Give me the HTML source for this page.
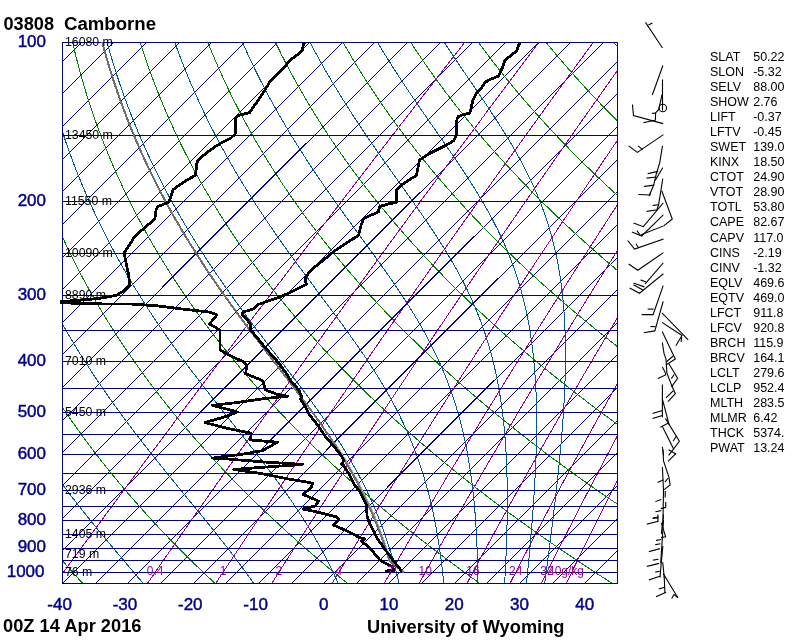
<!DOCTYPE html>
<html><head><meta charset="utf-8"><style>
html,body{margin:0;padding:0;background:#fff;width:800px;height:640px;overflow:hidden}
svg{display:block}
text{font-family:"Liberation Sans",Arial,Helvetica,sans-serif}
</style></head><body>
<svg width="800" height="640" viewBox="0 0 800 640">
<defs><clipPath id="c"><rect x="62" y="42" width="556" height="542"/></clipPath></defs>
<g clip-path="url(#c)" shape-rendering="crispEdges"><line x1="-459.50" y1="583.50" x2="81.50" y2="42.50" stroke="#00008c"/><line x1="-427.50" y1="583.50" x2="113.50" y2="42.50" stroke="#00008c"/><line x1="-394.50" y1="583.50" x2="146.50" y2="42.50" stroke="#00008c"/><line x1="-361.50" y1="583.50" x2="179.50" y2="42.50" stroke="#00008c"/><line x1="-329.50" y1="583.50" x2="211.50" y2="42.50" stroke="#00008c"/><line x1="-296.50" y1="583.50" x2="244.50" y2="42.50" stroke="#00008c"/><line x1="-263.50" y1="583.50" x2="277.50" y2="42.50" stroke="#00008c"/><line x1="-231.50" y1="583.50" x2="309.50" y2="42.50" stroke="#00008c"/><line x1="-198.50" y1="583.50" x2="342.50" y2="42.50" stroke="#00008c"/><line x1="-166.50" y1="583.50" x2="374.50" y2="42.50" stroke="#00008c"/><line x1="-133.50" y1="583.50" x2="407.50" y2="42.50" stroke="#00008c"/><line x1="-100.50" y1="583.50" x2="440.50" y2="42.50" stroke="#00008c"/><line x1="-68.50" y1="583.50" x2="472.50" y2="42.50" stroke="#00008c"/><line x1="-35.50" y1="583.50" x2="505.50" y2="42.50" stroke="#00008c"/><line x1="-2.50" y1="583.50" x2="538.50" y2="42.50" stroke="#00008c"/><line x1="29.50" y1="583.50" x2="570.50" y2="42.50" stroke="#00008c"/><line x1="62.50" y1="583.50" x2="603.50" y2="42.50" stroke="#00008c"/><line x1="95.50" y1="583.50" x2="636.50" y2="42.50" stroke="#00008c"/><line x1="127.50" y1="583.50" x2="668.50" y2="42.50" stroke="#00008c"/><line x1="160.50" y1="583.50" x2="701.50" y2="42.50" stroke="#00008c"/><line x1="193.50" y1="583.50" x2="734.50" y2="42.50" stroke="#00008c"/><line x1="225.50" y1="583.50" x2="766.50" y2="42.50" stroke="#00008c"/><line x1="258.50" y1="583.50" x2="799.50" y2="42.50" stroke="#00008c"/><line x1="291.50" y1="583.50" x2="832.50" y2="42.50" stroke="#00008c"/><line x1="323.50" y1="583.50" x2="864.50" y2="42.50" stroke="#00008c"/><line x1="356.50" y1="583.50" x2="897.50" y2="42.50" stroke="#00008c"/><line x1="388.50" y1="583.50" x2="929.50" y2="42.50" stroke="#00008c"/><line x1="421.50" y1="583.50" x2="962.50" y2="42.50" stroke="#00008c"/><line x1="454.50" y1="583.50" x2="995.50" y2="42.50" stroke="#00008c"/><line x1="486.50" y1="583.50" x2="1027.50" y2="42.50" stroke="#00008c"/><line x1="519.50" y1="583.50" x2="1060.50" y2="42.50" stroke="#00008c"/><line x1="552.50" y1="583.50" x2="1093.50" y2="42.50" stroke="#00008c"/><line x1="584.50" y1="583.50" x2="1125.50" y2="42.50" stroke="#00008c"/><line x1="617.50" y1="583.50" x2="1158.50" y2="42.50" stroke="#00008c"/><polyline points="-130.27,42.50 -130.36,47.05 -130.43,51.59 -130.47,56.14 -130.49,60.68 -130.48,65.23 -130.44,69.78 -130.38,74.32 -130.29,78.87 -130.18,83.42 -130.04,87.96 -129.87,92.51 -129.67,97.05 -129.45,101.60 -129.20,106.15 -128.93,110.69 -128.63,115.24 -128.30,119.79 -127.94,124.33 -127.55,128.88 -127.14,133.42 -126.70,137.97 -126.23,142.52 -125.73,147.06 -125.20,151.61 -124.65,156.16 -124.06,160.70 -123.45,165.25 -122.80,169.79 -122.13,174.34 -121.43,178.89 -120.70,183.43 -119.94,187.98 -119.14,192.53 -118.32,197.07 -117.47,201.62 -116.58,206.16 -115.67,210.71 -114.73,215.26 -113.75,219.80 -112.74,224.35 -111.70,228.89 -110.63,233.44 -109.53,237.99 -108.39,242.53 -107.23,247.08 -106.03,251.63 -104.80,256.17 -103.53,260.72 -102.23,265.26 -100.90,269.81 -99.54,274.36 -98.14,278.90 -96.71,283.45 -95.25,288.00 -93.75,292.54 -92.21,297.09 -90.65,301.63 -89.04,306.18 -87.41,310.73 -85.73,315.27 -84.03,319.82 -82.28,324.37 -80.50,328.91 -78.69,333.46 -76.84,338.00 -74.95,342.55 -73.03,347.10 -71.07,351.64 -69.07,356.19 -67.04,360.74 -64.96,365.28 -62.86,369.83 -60.71,374.37 -58.52,378.92 -56.30,383.47 -54.04,388.01 -51.74,392.56 -49.40,397.11 -47.02,401.65 -44.61,406.20 -42.15,410.74 -39.66,415.29 -37.12,419.84 -34.54,424.38 -31.93,428.93 -29.27,433.47 -26.57,438.02 -23.83,442.57 -21.05,447.11 -18.23,451.66 -15.37,456.21 -12.46,460.75 -9.51,465.30 -6.52,469.84 -3.49,474.39 -0.41,478.94 2.71,483.48 5.87,488.03 9.07,492.58 12.32,497.12 15.62,501.67 18.96,506.21 22.34,510.76 25.77,515.31 29.24,519.85 32.76,524.40 36.33,528.95 39.94,533.49 43.60,538.04 47.30,542.58 51.05,547.13 54.85,551.68 58.69,556.22 62.58,560.77 66.52,565.32 70.51,569.86 74.55,574.41 78.63,578.95 82.77,583.50" fill="none" stroke="#008000" stroke-width="1" /><polyline points="-62.64,42.50 -62.35,47.05 -62.03,51.59 -61.68,56.14 -61.31,60.68 -60.90,65.23 -60.47,69.78 -60.02,74.32 -59.53,78.87 -59.02,83.42 -58.47,87.96 -57.90,92.51 -57.30,97.05 -56.67,101.60 -56.01,106.15 -55.32,110.69 -54.60,115.24 -53.85,119.79 -53.07,124.33 -52.26,128.88 -51.42,133.42 -50.55,137.97 -49.65,142.52 -48.72,147.06 -47.75,151.61 -46.76,156.16 -45.73,160.70 -44.67,165.25 -43.59,169.79 -42.46,174.34 -41.31,178.89 -40.13,183.43 -38.91,187.98 -37.66,192.53 -36.37,197.07 -35.06,201.62 -33.71,206.16 -32.32,210.71 -30.91,215.26 -29.46,219.80 -27.97,224.35 -26.45,228.89 -24.90,233.44 -23.31,237.99 -21.69,242.53 -20.03,247.08 -18.34,251.63 -16.61,256.17 -14.85,260.72 -13.05,265.26 -11.21,269.81 -9.34,274.36 -7.43,278.90 -5.49,283.45 -3.50,288.00 -1.49,292.54 0.57,297.09 2.66,301.63 4.79,306.18 6.96,310.73 9.17,315.27 11.41,319.82 13.70,324.37 16.02,328.91 18.38,333.46 20.78,338.00 23.22,342.55 25.70,347.10 28.22,351.64 30.78,356.19 33.38,360.74 36.02,365.28 38.70,369.83 41.42,374.37 44.18,378.92 46.99,383.47 49.83,388.01 52.72,392.56 55.65,397.11 58.62,401.65 61.64,406.20 64.70,410.74 67.80,415.29 70.94,419.84 74.13,424.38 77.36,428.93 80.64,433.47 83.96,438.02 87.32,442.57 90.73,447.11 94.19,451.66 97.69,456.21 101.23,460.75 104.82,465.30 108.46,469.84 112.14,474.39 115.88,478.94 119.65,483.48 123.48,488.03 127.35,492.58 131.27,497.12 135.24,501.67 139.25,506.21 143.32,510.76 147.43,515.31 151.59,519.85 155.81,524.40 160.07,528.95 164.38,533.49 168.74,538.04 173.15,542.58 177.62,547.13 182.13,551.68 186.69,556.22 191.31,560.77 195.98,565.32 200.70,569.86 205.47,574.41 210.30,578.95 215.18,583.50" fill="none" stroke="#008000" stroke-width="1" /><polyline points="5.00,42.50 5.67,47.05 6.38,51.59 7.11,56.14 7.87,60.68 8.67,65.23 9.49,69.78 10.35,74.32 11.23,78.87 12.15,83.42 13.09,87.96 14.07,92.51 15.08,97.05 16.12,101.60 17.19,106.15 18.30,110.69 19.43,115.24 20.60,119.79 21.80,124.33 23.03,128.88 24.30,133.42 25.60,137.97 26.93,142.52 28.30,147.06 29.70,151.61 31.13,156.16 32.60,160.70 34.10,165.25 35.63,169.79 37.20,174.34 38.81,178.89 40.45,183.43 42.12,187.98 43.83,192.53 45.57,197.07 47.35,201.62 49.17,206.16 51.02,210.71 52.91,215.26 54.84,219.80 56.80,224.35 58.80,228.89 60.83,233.44 62.91,237.99 65.02,242.53 67.17,247.08 69.35,251.63 71.58,256.17 73.84,260.72 76.14,265.26 78.48,269.81 80.86,274.36 83.28,278.90 85.74,283.45 88.24,288.00 90.78,292.54 93.35,297.09 95.97,301.63 98.63,306.18 101.33,310.73 104.07,315.27 106.85,319.82 109.68,324.37 112.54,328.91 115.45,333.46 118.40,338.00 121.39,342.55 124.43,347.10 127.51,351.64 130.63,356.19 133.79,360.74 137.00,365.28 140.25,369.83 143.55,374.37 146.89,378.92 150.28,383.47 153.71,388.01 157.18,392.56 160.70,397.11 164.27,401.65 167.89,406.20 171.54,410.74 175.25,415.29 179.00,419.84 182.80,424.38 186.65,428.93 190.54,433.47 194.49,438.02 198.48,442.57 202.52,447.11 206.60,451.66 210.74,456.21 214.93,460.75 219.16,465.30 223.44,469.84 227.78,474.39 232.17,478.94 236.60,483.48 241.09,488.03 245.63,492.58 250.22,497.12 254.86,501.67 259.55,506.21 264.30,510.76 269.09,515.31 273.94,519.85 278.85,524.40 283.81,528.95 288.82,533.49 293.89,538.04 299.01,542.58 304.18,547.13 309.41,551.68 314.70,556.22 320.04,560.77 325.44,565.32 330.89,569.86 336.40,574.41 341.97,578.95 347.59,583.50" fill="none" stroke="#008000" stroke-width="1" /><polyline points="72.64,42.50 73.69,47.05 74.78,51.59 75.90,56.14 77.05,60.68 78.24,65.23 79.46,69.78 80.71,74.32 81.99,78.87 83.31,83.42 84.66,87.96 86.04,92.51 87.46,97.05 88.91,101.60 90.39,106.15 91.91,110.69 93.46,115.24 95.05,119.79 96.67,124.33 98.33,128.88 100.02,133.42 101.75,137.97 103.51,142.52 105.31,147.06 107.15,151.61 109.02,156.16 110.93,160.70 112.87,165.25 114.85,169.79 116.87,174.34 118.92,178.89 121.02,183.43 123.15,187.98 125.31,192.53 127.52,197.07 129.77,201.62 132.05,206.16 134.37,210.71 136.73,215.26 139.13,219.80 141.57,224.35 144.05,228.89 146.57,233.44 149.13,237.99 151.72,242.53 154.36,247.08 157.04,251.63 159.77,256.17 162.53,260.72 165.33,265.26 168.18,269.81 171.06,274.36 173.99,278.90 176.97,283.45 179.98,288.00 183.04,292.54 186.14,297.09 189.28,301.63 192.47,306.18 195.70,310.73 198.97,315.27 202.29,319.82 205.66,324.37 209.07,328.91 212.52,333.46 216.02,338.00 219.57,342.55 223.16,347.10 226.79,351.64 230.48,356.19 234.21,360.74 237.98,365.28 241.81,369.83 245.68,374.37 249.60,378.92 253.57,383.47 257.58,388.01 261.65,392.56 265.76,397.11 269.92,401.65 274.13,406.20 278.39,410.74 282.70,415.29 287.06,419.84 291.48,424.38 295.94,428.93 300.45,433.47 305.02,438.02 309.63,442.57 314.30,447.11 319.02,451.66 323.79,456.21 328.62,460.75 333.50,465.30 338.43,469.84 343.41,474.39 348.45,478.94 353.55,483.48 358.70,488.03 363.90,492.58 369.16,497.12 374.48,501.67 379.85,506.21 385.27,510.76 390.76,515.31 396.30,519.85 401.89,524.40 407.55,528.95 413.26,533.49 419.03,538.04 424.86,542.58 430.75,547.13 436.69,551.68 442.70,556.22 448.77,560.77 454.89,565.32 461.08,569.86 467.33,574.41 473.64,578.95 480.01,583.50" fill="none" stroke="#008000" stroke-width="1" /><polyline points="140.27,42.50 141.71,47.05 143.18,51.59 144.69,56.14 146.24,60.68 147.81,65.23 149.42,69.78 151.07,74.32 152.75,78.87 154.47,83.42 156.22,87.96 158.01,92.51 159.83,97.05 161.69,101.60 163.59,106.15 165.52,110.69 167.49,115.24 169.50,119.79 171.54,124.33 173.62,128.88 175.74,133.42 177.90,137.97 180.09,142.52 182.32,147.06 184.60,151.61 186.91,156.16 189.25,160.70 191.64,165.25 194.07,169.79 196.54,174.34 199.04,178.89 201.59,183.43 204.17,187.98 206.80,192.53 209.47,197.07 212.18,201.62 214.93,206.16 217.72,210.71 220.55,215.26 223.42,219.80 226.34,224.35 229.30,228.89 232.30,233.44 235.34,237.99 238.43,242.53 241.56,247.08 244.74,251.63 247.95,256.17 251.21,260.72 254.52,265.26 257.87,269.81 261.27,274.36 264.71,278.90 268.19,283.45 271.72,288.00 275.30,292.54 278.92,297.09 282.59,301.63 286.31,306.18 290.07,310.73 293.88,315.27 297.73,319.82 301.64,324.37 305.59,328.91 309.59,333.46 313.64,338.00 317.74,342.55 321.89,347.10 326.08,351.64 330.33,356.19 334.62,360.74 338.97,365.28 343.36,369.83 347.81,374.37 352.31,378.92 356.86,383.47 361.46,388.01 366.11,392.56 370.81,397.11 375.57,401.65 380.38,406.20 385.24,410.74 390.16,415.29 395.12,419.84 400.15,424.38 405.23,428.93 410.36,433.47 415.54,438.02 420.79,442.57 426.08,447.11 431.44,451.66 436.85,456.21 442.31,460.75 447.83,465.30 453.41,469.84 459.05,474.39 464.74,478.94 470.50,483.48 476.31,488.03 482.18,492.58 488.11,497.12 494.09,501.67 500.14,506.21 506.25,510.76 512.42,515.31 518.65,519.85 524.94,524.40 531.29,528.95 537.70,533.49 544.18,538.04 550.71,542.58 557.31,547.13 563.98,551.68 570.70,556.22 577.49,560.77 584.35,565.32 591.27,569.86 598.25,574.41 605.30,578.95 612.42,583.50" fill="none" stroke="#008000" stroke-width="1" /><polyline points="207.91,42.50 209.73,47.05 211.59,51.59 213.48,56.14 215.42,60.68 217.38,65.23 219.39,69.78 221.43,74.32 223.51,78.87 225.63,83.42 227.78,87.96 229.98,92.51 232.21,97.05 234.48,101.60 236.79,106.15 239.13,110.69 241.52,115.24 243.95,119.79 246.41,124.33 248.92,128.88 251.46,133.42 254.05,137.97 256.67,142.52 259.34,147.06 262.05,151.61 264.79,156.16 267.58,160.70 270.41,165.25 273.29,169.79 276.20,174.34 279.16,178.89 282.16,183.43 285.20,187.98 288.29,192.53 291.42,197.07 294.59,201.62 297.80,206.16 301.06,210.71 304.37,215.26 307.72,219.80 311.11,224.35 314.55,228.89 318.03,233.44 321.56,237.99 325.14,242.53 328.76,247.08 332.43,251.63 336.14,256.17 339.90,260.72 343.71,265.26 347.56,269.81 351.47,274.36 355.42,278.90 359.42,283.45 363.46,288.00 367.56,292.54 371.71,297.09 375.90,301.63 380.14,306.18 384.44,310.73 388.78,315.27 393.17,319.82 397.62,324.37 402.12,328.91 406.66,333.46 411.26,338.00 415.91,342.55 420.61,347.10 425.37,351.64 430.18,356.19 435.04,360.74 439.95,365.28 444.92,369.83 449.94,374.37 455.01,378.92 460.14,383.47 465.33,388.01 470.57,392.56 475.87,397.11 481.22,401.65 486.62,406.20 492.09,410.74 497.61,415.29 503.19,419.84 508.82,424.38 514.51,428.93 520.26,433.47 526.07,438.02 531.94,442.57 537.87,447.11 543.85,451.66 549.90,456.21 556.00,460.75 562.17,465.30 568.40,469.84 574.68,474.39 581.03,478.94 587.45,483.48 593.92,488.03 600.45,492.58 607.05,497.12 613.71,501.67 620.44,506.21 627.23,510.76 634.08,515.31 641.00,519.85 647.98,524.40 655.03,528.95 662.14,533.49 669.32,538.04 676.57,542.58 683.88,547.13 691.26,551.68 698.71,556.22 706.22,560.77 713.81,565.32 721.46,569.86 729.18,574.41 736.97,578.95 744.83,583.50" fill="none" stroke="#008000" stroke-width="1" /><polyline points="275.54,42.50 277.75,47.05 279.99,51.59 282.27,56.14 284.60,60.68 286.96,65.23 289.36,69.78 291.79,74.32 294.27,78.87 296.79,83.42 299.35,87.96 301.95,92.51 304.59,97.05 307.26,101.60 309.99,106.15 312.75,110.69 315.55,115.24 318.39,119.79 321.28,124.33 324.21,128.88 327.18,133.42 330.20,137.97 333.25,142.52 336.35,147.06 339.49,151.61 342.68,156.16 345.91,160.70 349.19,165.25 352.50,169.79 355.87,174.34 359.28,178.89 362.73,183.43 366.23,187.98 369.77,192.53 373.36,197.07 377.00,201.62 380.68,206.16 384.41,210.71 388.19,215.26 392.01,219.80 395.88,224.35 399.80,228.89 403.77,233.44 407.78,237.99 411.84,242.53 415.96,247.08 420.12,251.63 424.33,256.17 428.59,260.72 432.90,265.26 437.26,269.81 441.67,274.36 446.13,278.90 450.64,283.45 455.21,288.00 459.82,292.54 464.49,297.09 469.21,301.63 473.98,306.18 478.81,310.73 483.68,315.27 488.61,319.82 493.60,324.37 498.64,328.91 503.73,333.46 508.88,338.00 514.08,342.55 519.34,347.10 524.66,351.64 530.02,356.19 535.45,360.74 540.93,365.28 546.47,369.83 552.07,374.37 557.72,378.92 563.43,383.47 569.20,388.01 575.03,392.56 580.92,397.11 586.86,401.65 592.87,406.20 598.94,410.74 605.06,415.29 611.25,419.84 617.49,424.38 623.80,428.93 630.17,433.47 636.60,438.02 643.09,442.57 649.65,447.11 656.27,451.66 662.95,456.21 669.70,460.75 676.51,465.30 683.38,469.84 690.32,474.39 697.32,478.94 704.39,483.48 711.53,488.03 718.73,492.58 726.00,497.12 733.33,501.67 740.73,506.21 748.20,510.76 755.74,515.31 763.35,519.85 771.02,524.40 778.77,528.95 786.58,533.49 794.47,538.04 802.42,542.58 810.44,547.13 818.54,551.68 826.71,556.22 834.95,560.77 843.26,565.32 851.65,569.86 860.11,574.41 868.64,578.95 877.25,583.50" fill="none" stroke="#008000" stroke-width="1" /><polyline points="343.18,42.50 345.77,47.05 348.40,51.59 351.07,56.14 353.78,60.68 356.53,65.23 359.32,69.78 362.16,74.32 365.03,78.87 367.95,83.42 370.91,87.96 373.92,92.51 376.96,97.05 380.05,101.60 383.18,106.15 386.36,110.69 389.58,115.24 392.84,119.79 396.15,124.33 399.50,128.88 402.90,133.42 406.34,137.97 409.83,142.52 413.36,147.06 416.94,151.61 420.57,156.16 424.24,160.70 427.96,165.25 431.72,169.79 435.53,174.34 439.39,178.89 443.30,183.43 447.26,187.98 451.26,192.53 455.31,197.07 459.41,201.62 463.56,206.16 467.76,210.71 472.01,215.26 476.30,219.80 480.65,224.35 485.05,228.89 489.50,233.44 494.00,237.99 498.55,242.53 503.15,247.08 507.81,251.63 512.52,256.17 517.27,260.72 522.09,265.26 526.95,269.81 531.87,274.36 536.84,278.90 541.87,283.45 546.95,288.00 552.08,292.54 557.27,297.09 562.52,301.63 567.82,306.18 573.17,310.73 578.59,315.27 584.06,319.82 589.58,324.37 595.16,328.91 600.80,333.46 606.50,338.00 612.26,342.55 618.07,347.10 623.94,351.64 629.87,356.19 635.87,360.74 641.92,365.28 648.03,369.83 654.20,374.37 660.43,378.92 666.72,383.47 673.08,388.01 679.49,392.56 685.97,397.11 692.51,401.65 699.12,406.20 705.78,410.74 712.51,415.29 719.31,419.84 726.17,424.38 733.09,428.93 740.08,433.47 747.13,438.02 754.25,442.57 761.43,447.11 768.69,451.66 776.00,456.21 783.39,460.75 790.84,465.30 798.37,469.84 805.95,474.39 813.61,478.94 821.34,483.48 829.14,488.03 837.01,492.58 844.94,497.12 852.95,501.67 861.03,506.21 869.18,510.76 877.40,515.31 885.70,519.85 894.07,524.40 902.51,528.95 911.02,533.49 919.61,538.04 928.27,542.58 937.01,547.13 945.82,551.68 954.71,556.22 963.68,560.77 972.72,565.32 981.84,569.86 991.03,574.41 1000.31,578.95 1009.66,583.50" fill="none" stroke="#008000" stroke-width="1" /><polyline points="410.81,42.50 413.79,47.05 416.80,51.59 419.86,56.14 422.96,60.68 426.10,65.23 429.29,69.78 432.52,74.32 435.79,78.87 439.11,83.42 442.48,87.96 445.88,92.51 449.34,97.05 452.84,101.60 456.38,106.15 459.97,110.69 463.61,115.24 467.29,119.79 471.02,124.33 474.80,128.88 478.62,133.42 482.49,137.97 486.41,142.52 490.38,147.06 494.39,151.61 498.46,156.16 502.57,160.70 506.73,165.25 510.94,169.79 515.20,174.34 519.51,178.89 523.87,183.43 528.28,187.98 532.75,192.53 537.26,197.07 541.82,201.62 546.44,206.16 551.11,210.71 555.83,215.26 560.60,219.80 565.42,224.35 570.30,228.89 575.23,233.44 580.22,237.99 585.26,242.53 590.35,247.08 595.50,251.63 600.70,256.17 605.96,260.72 611.28,265.26 616.65,269.81 622.07,274.36 627.55,278.90 633.09,283.45 638.69,288.00 644.35,292.54 650.06,297.09 655.83,301.63 661.66,306.18 667.54,310.73 673.49,315.27 679.50,319.82 685.56,324.37 691.69,328.91 697.87,333.46 704.12,338.00 710.43,342.55 716.80,347.10 723.23,351.64 729.72,356.19 736.28,360.74 742.90,365.28 749.58,369.83 756.33,374.37 763.14,378.92 770.01,383.47 776.95,388.01 783.96,392.56 791.03,397.11 798.16,401.65 805.36,406.20 812.63,410.74 819.97,415.29 827.37,419.84 834.84,424.38 842.38,428.93 849.98,433.47 857.66,438.02 865.40,442.57 873.22,447.11 881.10,451.66 889.06,456.21 897.08,460.75 905.18,465.30 913.35,469.84 921.59,474.39 929.90,478.94 938.29,483.48 946.75,488.03 955.28,492.58 963.89,497.12 972.57,501.67 981.33,506.21 990.16,510.76 999.07,515.31 1008.05,519.85 1017.11,524.40 1026.25,528.95 1035.46,533.49 1044.76,538.04 1054.13,542.58 1063.58,547.13 1073.11,551.68 1082.72,556.22 1092.40,560.77 1102.18,565.32 1112.03,569.86 1121.96,574.41 1131.97,578.95 1142.07,583.50" fill="none" stroke="#008000" stroke-width="1" /><polyline points="478.45,42.50 481.80,47.05 485.20,51.59 488.65,56.14 492.14,60.68 495.67,65.23 499.25,69.78 502.88,74.32 506.55,78.87 510.27,83.42 514.04,87.96 517.85,92.51 521.71,97.05 525.62,101.60 529.58,106.15 533.58,110.69 537.64,115.24 541.74,119.79 545.89,124.33 550.09,128.88 554.34,133.42 558.64,137.97 562.99,142.52 567.39,147.06 571.84,151.61 576.34,156.16 580.90,160.70 585.50,165.25 590.16,169.79 594.87,174.34 599.63,178.89 604.44,183.43 609.31,187.98 614.23,192.53 619.21,197.07 624.23,201.62 629.32,206.16 634.45,210.71 639.64,215.26 644.89,219.80 650.19,224.35 655.55,228.89 660.97,233.44 666.44,237.99 671.96,242.53 677.55,247.08 683.19,251.63 688.89,256.17 694.65,260.72 700.46,265.26 706.34,269.81 712.27,274.36 718.27,278.90 724.32,283.45 730.43,288.00 736.61,292.54 742.84,297.09 749.14,301.63 755.49,306.18 761.91,310.73 768.39,315.27 774.94,319.82 781.54,324.37 788.21,328.91 794.94,333.46 801.74,338.00 808.60,342.55 815.53,347.10 822.52,351.64 829.57,356.19 836.69,360.74 843.88,365.28 851.14,369.83 858.46,374.37 865.85,378.92 873.30,383.47 880.83,388.01 888.42,392.56 896.08,397.11 903.81,401.65 911.61,406.20 919.48,410.74 927.42,415.29 935.43,419.84 943.51,424.38 951.66,428.93 959.89,433.47 968.19,438.02 976.56,442.57 985.00,447.11 993.52,451.66 1002.11,456.21 1010.78,460.75 1019.52,465.30 1028.33,469.84 1037.22,474.39 1046.19,478.94 1055.24,483.48 1064.36,488.03 1073.56,492.58 1082.83,497.12 1092.19,501.67 1101.62,506.21 1111.13,510.76 1120.73,515.31 1130.40,519.85 1140.15,524.40 1149.99,528.95 1159.90,533.49 1169.90,538.04 1179.98,542.58 1190.14,547.13 1200.39,551.68 1210.72,556.22 1221.13,560.77 1231.63,565.32 1242.22,569.86 1252.89,574.41 1263.64,578.95 1274.48,583.50" fill="none" stroke="#008000" stroke-width="1" /><polyline points="546.09,42.50 549.82,47.05 553.61,51.59 557.44,56.14 561.32,60.68 565.24,65.23 569.22,69.78 573.24,74.32 577.31,78.87 581.43,83.42 585.60,87.96 589.82,92.51 594.09,97.05 598.41,101.60 602.78,106.15 607.20,110.69 611.67,115.24 616.19,119.79 620.76,124.33 625.39,128.88 630.06,133.42 634.79,137.97 639.57,142.52 644.40,147.06 649.29,151.61 654.23,156.16 659.23,160.70 664.27,165.25 669.38,169.79 674.53,174.34 679.75,178.89 685.01,183.43 690.34,187.98 695.72,192.53 701.15,197.07 706.64,201.62 712.19,206.16 717.80,210.71 723.46,215.26 729.18,219.80 734.96,224.35 740.80,228.89 746.70,233.44 752.66,237.99 758.67,242.53 764.75,247.08 770.88,251.63 777.08,256.17 783.34,260.72 789.65,265.26 796.03,269.81 802.48,274.36 808.98,278.90 815.55,283.45 822.18,288.00 828.87,292.54 835.62,297.09 842.45,301.63 849.33,306.18 856.28,310.73 863.30,315.27 870.38,319.82 877.52,324.37 884.73,328.91 892.01,333.46 899.36,338.00 906.77,342.55 914.25,347.10 921.80,351.64 929.42,356.19 937.11,360.74 944.87,365.28 952.69,369.83 960.59,374.37 968.55,378.92 976.59,383.47 984.70,388.01 992.88,392.56 1001.13,397.11 1009.46,401.65 1017.86,406.20 1026.33,410.74 1034.87,415.29 1043.49,419.84 1052.18,424.38 1060.95,428.93 1069.80,433.47 1078.72,438.02 1087.71,442.57 1096.79,447.11 1105.94,451.66 1115.16,456.21 1124.47,460.75 1133.85,465.30 1143.32,469.84 1152.86,474.39 1162.48,478.94 1172.18,483.48 1181.97,488.03 1191.83,492.58 1201.78,497.12 1211.81,501.67 1221.92,506.21 1232.11,510.76 1242.39,515.31 1252.75,519.85 1263.20,524.40 1273.73,528.95 1284.34,533.49 1295.04,538.04 1305.83,542.58 1316.71,547.13 1327.67,551.68 1338.72,556.22 1349.86,560.77 1361.09,565.32 1372.40,569.86 1383.81,574.41 1395.31,578.95 1406.90,583.50" fill="none" stroke="#008000" stroke-width="1" /><polyline points="613.72,42.50 617.84,47.05 622.01,51.59 626.23,56.14 630.50,60.68 634.82,65.23 639.19,69.78 643.60,74.32 648.07,78.87 652.59,83.42 657.17,87.96 661.79,92.51 666.47,97.05 671.20,101.60 675.98,106.15 680.81,110.69 685.70,115.24 690.64,119.79 695.63,124.33 700.68,128.88 705.78,133.42 710.94,137.97 716.15,142.52 721.42,147.06 726.74,151.61 732.12,156.16 737.56,160.70 743.05,165.25 748.60,169.79 754.20,174.34 759.86,178.89 765.59,183.43 771.37,187.98 777.20,192.53 783.10,197.07 789.06,201.62 795.07,206.16 801.15,210.71 807.28,215.26 813.48,219.80 819.73,224.35 826.05,228.89 832.43,233.44 838.87,237.99 845.38,242.53 851.94,247.08 858.57,251.63 865.27,256.17 872.02,260.72 878.84,265.26 885.73,269.81 892.68,274.36 899.69,278.90 906.77,283.45 913.92,288.00 921.13,292.54 928.41,297.09 935.75,301.63 943.17,306.18 950.65,310.73 958.20,315.27 965.82,319.82 973.50,324.37 981.26,328.91 989.08,333.46 996.98,338.00 1004.95,342.55 1012.98,347.10 1021.09,351.64 1029.27,356.19 1037.52,360.74 1045.85,365.28 1054.25,369.83 1062.72,374.37 1071.26,378.92 1079.88,383.47 1088.57,388.01 1097.34,392.56 1106.19,397.11 1115.11,401.65 1124.10,406.20 1133.17,410.74 1142.32,415.29 1151.55,419.84 1160.86,424.38 1170.24,428.93 1179.70,433.47 1189.25,438.02 1198.87,442.57 1208.57,447.11 1218.35,451.66 1228.22,456.21 1238.16,460.75 1248.19,465.30 1258.30,469.84 1268.50,474.39 1278.77,478.94 1289.13,483.48 1299.58,488.03 1310.11,492.58 1320.72,497.12 1331.43,501.67 1342.21,506.21 1353.09,510.76 1364.05,515.31 1375.10,519.85 1386.24,524.40 1397.47,528.95 1408.78,533.49 1420.19,538.04 1431.69,542.58 1443.27,547.13 1454.95,551.68 1466.72,556.22 1478.59,560.77 1490.54,565.32 1502.59,569.86 1514.74,574.41 1526.98,578.95 1539.31,583.50" fill="none" stroke="#008000" stroke-width="1" /><polyline points="-95.89,42.50 -95.78,47.05 -95.65,51.59 -95.49,56.14 -95.30,60.68 -95.09,65.23 -94.84,69.78 -94.58,74.32 -94.28,78.87 -93.96,83.42 -93.61,87.96 -93.23,92.51 -92.83,97.05 -92.40,101.60 -91.93,106.15 -91.45,110.69 -90.93,115.24 -90.38,119.79 -89.81,124.33 -89.20,128.88 -88.57,133.42 -87.90,137.97 -87.21,142.52 -86.49,147.06 -85.74,151.61 -84.96,156.16 -84.15,160.70 -83.30,165.25 -82.43,169.79 -81.53,174.34 -80.59,178.89 -79.63,183.43 -78.63,187.98 -77.60,192.53 -76.55,197.07 -75.45,201.62 -74.33,206.16 -73.18,210.71 -71.99,215.26 -70.77,219.80 -69.52,224.35 -68.23,228.89 -66.92,233.44 -65.57,237.99 -64.18,242.53 -62.76,247.08 -61.31,251.63 -59.83,256.17 -58.31,260.72 -56.75,265.26 -55.17,269.81 -53.54,274.36 -51.88,278.90 -50.19,283.45 -48.46,288.00 -46.70,292.54 -44.90,297.09 -43.07,301.63 -41.19,306.18 -39.29,310.73 -37.34,315.27 -35.36,319.82 -33.35,324.37 -31.29,328.91 -29.20,333.46 -27.07,338.00 -24.90,342.55 -22.70,347.10 -20.46,351.64 -18.18,356.19 -15.86,360.74 -13.50,365.28 -11.10,369.83 -8.67,374.37 -6.19,378.92 -3.68,383.47 -1.13,388.01 1.47,392.56 4.10,397.11 6.77,401.65 9.48,406.20 12.23,410.74 15.02,415.29 17.86,419.84 20.73,424.38 23.64,428.93 26.59,433.47 29.58,438.02 32.62,442.57 35.69,447.11 38.80,451.66 41.95,456.21 45.14,460.75 48.37,465.30 51.64,469.84 54.95,474.39 58.30,478.94 61.68,483.48 65.10,488.03 68.55,492.58 72.04,497.12 75.57,501.67 79.13,506.21 82.72,510.76 86.34,515.31 89.99,519.85 93.68,524.40 97.38,528.95 101.12,533.49 104.87,538.04 108.65,542.58 112.45,547.13 116.27,551.68 120.10,556.22 123.94,560.77 127.79,565.32 131.65,569.86 135.52,574.41 139.39,578.95 143.25,583.50" fill="none" stroke="#005a96" stroke-width="1" /><polyline points="-28.20,42.50 -27.71,47.05 -27.19,51.59 -26.65,56.14 -26.07,60.68 -25.47,65.23 -24.83,69.78 -24.17,74.32 -23.48,78.87 -22.75,83.42 -22.00,87.96 -21.22,92.51 -20.41,97.05 -19.57,101.60 -18.69,106.15 -17.79,110.69 -16.85,115.24 -15.89,119.79 -14.89,124.33 -13.86,128.88 -12.80,133.42 -11.71,137.97 -10.59,142.52 -9.43,147.06 -8.25,151.61 -7.03,156.16 -5.77,160.70 -4.49,165.25 -3.17,169.79 -1.82,174.34 -0.43,178.89 0.98,183.43 2.44,187.98 3.92,192.53 5.44,197.07 7.00,201.62 8.58,206.16 10.21,210.71 11.87,215.26 13.56,219.80 15.29,224.35 17.05,228.89 18.85,233.44 20.69,237.99 22.56,242.53 24.47,247.08 26.41,251.63 28.39,256.17 30.41,260.72 32.47,265.26 34.56,269.81 36.69,274.36 38.86,278.90 41.06,283.45 43.30,288.00 45.58,292.54 47.90,297.09 50.26,301.63 52.66,306.18 55.09,310.73 57.57,315.27 60.08,319.82 62.63,324.37 65.22,328.91 67.85,333.46 70.52,338.00 73.23,342.55 75.98,347.10 78.77,351.64 81.60,356.19 84.47,360.74 87.38,365.28 90.33,369.83 93.31,374.37 96.34,378.92 99.40,383.47 102.51,388.01 105.65,392.56 108.83,397.11 112.05,401.65 115.30,406.20 118.59,410.74 121.92,415.29 125.28,419.84 128.68,424.38 132.11,428.93 135.57,433.47 139.06,438.02 142.59,442.57 146.14,447.11 149.72,451.66 153.32,456.21 156.95,460.75 160.59,465.30 164.26,469.84 167.94,474.39 171.64,478.94 175.35,483.48 179.07,488.03 182.80,492.58 186.53,497.12 190.26,501.67 193.98,506.21 197.70,510.76 201.42,515.31 205.11,519.85 208.80,524.40 212.46,528.95 216.10,533.49 219.71,538.04 223.30,542.58 226.85,547.13 230.36,551.68 233.83,556.22 237.27,560.77 240.65,565.32 243.99,569.86 247.28,574.41 250.52,578.95 253.70,583.50" fill="none" stroke="#005a96" stroke-width="1" /><polyline points="39.48,42.50 40.35,47.05 41.26,51.59 42.19,56.14 43.15,60.68 44.15,65.23 45.18,69.78 46.24,74.32 47.33,78.87 48.45,83.42 49.61,87.96 50.79,92.51 52.01,97.05 53.27,101.60 54.55,106.15 55.87,110.69 57.22,115.24 58.60,119.79 60.02,124.33 61.47,128.88 62.96,133.42 64.48,137.97 66.03,142.52 67.62,147.06 69.24,151.61 70.90,156.16 72.60,160.70 74.32,165.25 76.09,169.79 77.89,174.34 79.72,178.89 81.59,183.43 83.50,187.98 85.44,192.53 87.43,197.07 89.44,201.62 91.50,206.16 93.59,210.71 95.72,215.26 97.88,219.80 100.09,224.35 102.33,228.89 104.61,233.44 106.93,237.99 109.28,242.53 111.68,247.08 114.11,251.63 116.58,256.17 119.10,260.72 121.65,265.26 124.23,269.81 126.86,274.36 129.53,278.90 132.24,283.45 134.98,288.00 137.77,292.54 140.59,297.09 143.46,301.63 146.36,306.18 149.30,310.73 152.28,315.27 155.29,319.82 158.35,324.37 161.44,328.91 164.57,333.46 167.74,338.00 170.94,342.55 174.18,347.10 177.45,351.64 180.75,356.19 184.09,360.74 187.46,365.28 190.86,369.83 194.28,374.37 197.74,378.92 201.22,383.47 204.72,388.01 208.24,392.56 211.79,397.11 215.35,401.65 218.93,406.20 222.52,410.74 226.11,415.29 229.72,419.84 233.33,424.38 236.94,428.93 240.54,433.47 244.14,438.02 247.73,442.57 251.31,447.11 254.87,451.66 258.41,456.21 261.93,460.75 265.42,465.30 268.88,469.84 272.30,474.39 275.68,478.94 279.03,483.48 282.33,488.03 285.58,492.58 288.79,497.12 291.94,501.67 295.04,506.21 298.08,510.76 301.06,515.31 303.98,519.85 306.84,524.40 309.64,528.95 312.37,533.49 315.05,538.04 317.65,542.58 320.19,547.13 322.67,551.68 325.08,556.22 327.43,560.77 329.71,565.32 331.93,569.86 334.09,574.41 336.18,578.95 338.21,583.50" fill="none" stroke="#005a96" stroke-width="1" /><polyline points="107.16,42.50 108.42,47.05 109.71,51.59 111.03,56.14 112.38,60.68 113.77,65.23 115.19,69.78 116.65,74.32 118.13,78.87 119.66,83.42 121.22,87.96 122.81,92.51 124.43,97.05 126.10,101.60 127.79,106.15 129.52,110.69 131.29,115.24 133.09,119.79 134.93,124.33 136.81,128.88 138.72,133.42 140.67,137.97 142.65,142.52 144.67,147.06 146.73,151.61 148.82,156.16 150.96,160.70 153.13,165.25 155.33,169.79 157.58,174.34 159.86,178.89 162.18,183.43 164.54,187.98 166.94,192.53 169.38,197.07 171.85,201.62 174.37,206.16 176.92,210.71 179.51,215.26 182.14,219.80 184.81,224.35 187.51,228.89 190.26,233.44 193.04,237.99 195.87,242.53 198.73,247.08 201.63,251.63 204.56,256.17 207.54,260.72 210.55,265.26 213.60,269.81 216.68,274.36 219.80,278.90 222.95,283.45 226.14,288.00 229.36,292.54 232.61,297.09 235.89,301.63 239.20,306.18 242.54,310.73 245.91,315.27 249.29,319.82 252.71,324.37 256.14,328.91 259.59,333.46 263.05,338.00 266.53,342.55 270.02,347.10 273.51,351.64 277.01,356.19 280.52,360.74 284.01,365.28 287.51,369.83 290.99,374.37 294.46,378.92 297.92,383.47 301.36,388.01 304.77,392.56 308.15,397.11 311.50,401.65 314.82,406.20 318.10,410.74 321.33,415.29 324.53,419.84 327.67,424.38 330.76,428.93 333.80,433.47 336.78,438.02 339.70,442.57 342.57,447.11 345.37,451.66 348.11,456.21 350.78,460.75 353.39,465.30 355.93,469.84 358.40,474.39 360.81,478.94 363.14,483.48 365.42,488.03 367.62,492.58 369.76,497.12 371.83,501.67 373.84,506.21 375.78,510.76 377.66,515.31 379.48,519.85 381.24,524.40 382.94,528.95 384.58,533.49 386.16,538.04 387.68,542.58 389.16,547.13 390.58,551.68 391.94,556.22 393.26,560.77 394.53,565.32 395.75,569.86 396.93,574.41 398.06,578.95 399.15,583.50" fill="none" stroke="#005a96" stroke-width="1" /><polyline points="174.84,42.50 176.48,47.05 178.15,51.59 179.86,56.14 181.61,60.68 183.39,65.23 185.20,69.78 187.05,74.32 188.94,78.87 190.86,83.42 192.82,87.96 194.81,92.51 196.85,97.05 198.92,101.60 201.02,106.15 203.17,110.69 205.35,115.24 207.57,119.79 209.83,124.33 212.12,128.88 214.45,133.42 216.82,137.97 219.23,142.52 221.68,147.06 224.17,151.61 226.69,156.16 229.25,160.70 231.85,165.25 234.49,169.79 237.17,174.34 239.89,178.89 242.64,183.43 245.43,187.98 248.26,192.53 251.13,197.07 254.03,201.62 256.97,206.16 259.95,210.71 262.96,215.26 266.00,219.80 269.08,224.35 272.20,228.89 275.34,233.44 278.52,237.99 281.72,242.53 284.95,247.08 288.21,251.63 291.50,256.17 294.80,260.72 298.13,265.26 301.48,269.81 304.84,274.36 308.22,278.90 311.61,283.45 315.01,288.00 318.41,292.54 321.81,297.09 325.22,301.63 328.62,306.18 332.00,310.73 335.38,315.27 338.74,319.82 342.08,324.37 345.40,328.91 348.69,333.46 351.95,338.00 355.17,342.55 358.36,347.10 361.50,351.64 364.59,356.19 367.64,360.74 370.63,365.28 373.57,369.83 376.45,374.37 379.27,378.92 382.03,383.47 384.73,388.01 387.36,392.56 389.92,397.11 392.41,401.65 394.84,406.20 397.20,410.74 399.48,415.29 401.70,419.84 403.85,424.38 405.93,428.93 407.94,433.47 409.88,438.02 411.76,442.57 413.57,447.11 415.31,451.66 417.00,456.21 418.62,460.75 420.17,465.30 421.67,469.84 423.11,474.39 424.49,478.94 425.82,483.48 427.09,488.03 428.31,492.58 429.48,497.12 430.59,501.67 431.66,506.21 432.69,510.76 433.66,515.31 434.60,519.85 435.49,524.40 436.34,528.95 437.15,533.49 437.92,538.04 438.65,542.58 439.35,547.13 440.02,551.68 440.65,556.22 441.24,560.77 441.81,565.32 442.35,569.86 442.86,574.41 443.34,578.95 443.79,583.50" fill="none" stroke="#005a96" stroke-width="1" /><polyline points="242.52,42.50 244.54,47.05 246.59,51.59 248.69,56.14 250.82,60.68 252.99,65.23 255.19,69.78 257.43,74.32 259.71,78.87 262.03,83.42 264.39,87.96 266.78,92.51 269.22,97.05 271.69,101.60 274.19,106.15 276.74,110.69 279.33,115.24 281.95,119.79 284.61,124.33 287.31,128.88 290.04,133.42 292.81,137.97 295.62,142.52 298.47,147.06 301.35,151.61 304.26,156.16 307.22,160.70 310.20,165.25 313.22,169.79 316.27,174.34 319.35,178.89 322.46,183.43 325.60,187.98 328.77,192.53 331.96,197.07 335.18,201.62 338.41,206.16 341.67,210.71 344.94,215.26 348.23,219.80 351.53,224.35 354.84,228.89 358.15,233.44 361.47,237.99 364.78,242.53 368.09,247.08 371.39,251.63 374.68,256.17 377.96,260.72 381.21,265.26 384.44,269.81 387.64,274.36 390.81,278.90 393.95,283.45 397.04,288.00 400.09,292.54 403.10,297.09 406.05,301.63 408.95,306.18 411.79,310.73 414.58,315.27 417.30,319.82 419.96,324.37 422.55,328.91 425.08,333.46 427.53,338.00 429.92,342.55 432.23,347.10 434.48,351.64 436.65,356.19 438.75,360.74 440.78,365.28 442.74,369.83 444.63,374.37 446.45,378.92 448.20,383.47 449.89,388.01 451.50,392.56 453.06,397.11 454.54,401.65 455.97,406.20 457.33,410.74 458.64,415.29 459.88,419.84 461.07,424.38 462.20,428.93 463.28,433.47 464.31,438.02 465.29,442.57 466.22,447.11 467.10,451.66 467.93,456.21 468.72,460.75 469.47,465.30 470.18,469.84 470.84,474.39 471.47,478.94 472.05,483.48 472.61,488.03 473.12,492.58 473.61,497.12 474.06,501.67 474.48,506.21 474.87,510.76 475.23,515.31 475.56,519.85 475.86,524.40 476.14,528.95 476.40,533.49 476.63,538.04 476.83,542.58 477.02,547.13 477.18,551.68 477.32,556.22 477.44,560.77 477.55,565.32 477.63,569.86 477.70,574.41 477.75,578.95 477.79,583.50" fill="none" stroke="#005a96" stroke-width="1" /><polyline points="310.15,42.50 312.55,47.05 314.98,51.59 317.45,56.14 319.96,60.68 322.50,65.23 325.09,69.78 327.71,74.32 330.36,78.87 333.06,83.42 335.79,87.96 338.55,92.51 341.36,97.05 344.19,101.60 347.07,106.15 349.97,110.69 352.91,115.24 355.88,119.79 358.88,124.33 361.92,128.88 364.98,133.42 368.06,137.97 371.18,142.52 374.31,147.06 377.47,151.61 380.64,156.16 383.84,160.70 387.05,165.25 390.27,169.79 393.49,174.34 396.73,178.89 399.96,183.43 403.20,187.98 406.42,192.53 409.65,197.07 412.85,201.62 416.04,206.16 419.21,210.71 422.36,215.26 425.47,219.80 428.56,224.35 431.60,228.89 434.61,233.44 437.56,237.99 440.47,242.53 443.33,247.08 446.13,251.63 448.88,256.17 451.56,260.72 454.18,265.26 456.73,269.81 459.21,274.36 461.63,278.90 463.97,283.45 466.25,288.00 468.45,292.54 470.57,297.09 472.63,301.63 474.61,306.18 476.51,310.73 478.35,315.27 480.11,319.82 481.80,324.37 483.43,328.91 484.98,333.46 486.47,338.00 487.88,342.55 489.24,347.10 490.53,351.64 491.76,356.19 492.93,360.74 494.04,365.28 495.09,369.83 496.08,374.37 497.03,378.92 497.92,383.47 498.75,388.01 499.54,392.56 500.29,397.11 500.98,401.65 501.63,406.20 502.24,410.74 502.80,415.29 503.33,419.84 503.82,424.38 504.26,428.93 504.68,433.47 505.05,438.02 505.40,442.57 505.71,447.11 505.99,451.66 506.24,456.21 506.46,460.75 506.65,465.30 506.81,469.84 506.95,474.39 507.07,478.94 507.15,483.48 507.22,488.03 507.27,492.58 507.29,497.12 507.29,501.67 507.27,506.21 507.24,510.76 507.18,515.31 507.11,519.85 507.02,524.40 506.92,528.95 506.80,533.49 506.66,538.04 506.52,542.58 506.35,547.13 506.18,551.68 505.99,556.22 505.79,560.77 505.58,565.32 505.36,569.86 505.13,574.41 504.89,578.95 504.64,583.50" fill="none" stroke="#005a96" stroke-width="1" /><polyline points="377.60,42.50 380.35,47.05 383.12,51.59 385.93,56.14 388.78,60.68 391.65,65.23 394.56,69.78 397.50,74.32 400.47,78.87 403.46,83.42 406.49,87.96 409.53,92.51 412.60,97.05 415.69,101.60 418.80,106.15 421.93,110.69 425.07,115.24 428.21,119.79 431.37,124.33 434.53,128.88 437.69,133.42 440.85,137.97 444.00,142.52 447.14,147.06 450.27,151.61 453.38,156.16 456.46,160.70 459.52,165.25 462.54,169.79 465.53,174.34 468.48,178.89 471.39,183.43 474.25,187.98 477.05,192.53 479.81,197.07 482.50,201.62 485.13,206.16 487.70,210.71 490.20,215.26 492.63,219.80 494.99,224.35 497.28,228.89 499.50,233.44 501.64,237.99 503.71,242.53 505.71,247.08 507.63,251.63 509.47,256.17 511.24,260.72 512.94,265.26 514.56,269.81 516.11,274.36 517.59,278.90 519.00,283.45 520.35,288.00 521.62,292.54 522.83,297.09 523.98,301.63 525.07,306.18 526.09,310.73 527.06,315.27 527.97,319.82 528.82,324.37 529.62,328.91 530.36,333.46 531.06,338.00 531.71,342.55 532.31,347.10 532.86,351.64 533.37,356.19 533.84,360.74 534.26,365.28 534.65,369.83 534.99,374.37 535.30,378.92 535.57,383.47 535.81,388.01 536.02,392.56 536.19,397.11 536.33,401.65 536.45,406.20 536.53,410.74 536.58,415.29 536.61,419.84 536.62,424.38 536.60,428.93 536.55,433.47 536.48,438.02 536.39,442.57 536.28,447.11 536.15,451.66 536.00,456.21 535.83,460.75 535.65,465.30 535.44,469.84 535.22,474.39 534.99,478.94 534.74,483.48 534.47,488.03 534.19,492.58 533.90,497.12 533.59,501.67 533.28,506.21 532.95,510.76 532.61,515.31 532.26,519.85 531.90,524.40 531.53,528.95 531.15,533.49 530.76,538.04 530.36,542.58 529.96,547.13 529.55,551.68 529.13,556.22 528.71,560.77 528.28,565.32 527.84,569.86 527.40,574.41 526.96,578.95 526.51,583.50" fill="none" stroke="#005a96" stroke-width="1" /><polyline points="444.36,42.50 447.35,47.05 450.37,51.59 453.41,56.14 456.46,60.68 459.53,65.23 462.60,69.78 465.69,74.32 468.78,78.87 471.88,83.42 474.97,87.96 478.05,92.51 481.13,97.05 484.19,101.60 487.23,106.15 490.25,110.69 493.24,115.24 496.20,119.79 499.13,124.33 502.01,128.88 504.86,133.42 507.65,137.97 510.39,142.52 513.08,147.06 515.70,151.61 518.27,156.16 520.77,160.70 523.20,165.25 525.56,169.79 527.85,174.34 530.07,178.89 532.21,183.43 534.28,187.98 536.27,192.53 538.18,197.07 540.02,201.62 541.78,206.16 543.47,210.71 545.08,215.26 546.61,219.80 548.08,224.35 549.47,228.89 550.79,233.44 552.04,237.99 553.22,242.53 554.34,247.08 555.39,251.63 556.38,256.17 557.31,260.72 558.17,265.26 558.98,269.81 559.73,274.36 560.43,278.90 561.08,283.45 561.67,288.00 562.22,292.54 562.71,297.09 563.16,301.63 563.57,306.18 563.93,310.73 564.25,315.27 564.53,319.82 564.77,324.37 564.97,328.91 565.14,333.46 565.27,338.00 565.37,342.55 565.43,347.10 565.47,351.64 565.47,356.19 565.45,360.74 565.39,365.28 565.31,369.83 565.21,374.37 565.08,378.92 564.92,383.47 564.75,388.01 564.55,392.56 564.33,397.11 564.09,401.65 563.83,406.20 563.55,410.74 563.25,415.29 562.94,419.84 562.61,424.38 562.26,428.93 561.90,433.47 561.52,438.02 561.13,442.57 560.73,447.11 560.31,451.66 559.88,456.21 559.44,460.75 558.99,465.30 558.52,469.84 558.05,474.39 557.57,478.94 557.08,483.48 556.58,488.03 556.07,492.58 555.55,497.12 555.03,501.67 554.49,506.21 553.96,510.76 553.41,515.31 552.86,519.85 552.31,524.40 551.75,528.95 551.18,533.49 550.61,538.04 550.04,542.58 549.46,547.13 548.88,551.68 548.29,556.22 547.71,560.77 547.12,565.32 546.53,569.86 545.93,574.41 545.34,578.95 544.74,583.50" fill="none" stroke="#005a96" stroke-width="1" /><polyline points="464.64,42.50 461.09,47.05 457.55,51.59 454.00,56.14 450.45,60.68 446.91,65.23 443.37,69.78 439.83,74.32 436.29,78.87 432.76,83.42 429.22,87.96 425.69,92.51 422.16,97.05 418.63,101.60 415.10,106.15 411.58,110.69 408.05,115.24 404.53,119.79 401.01,124.33 397.49,128.88 393.97,133.42 390.46,137.97 386.94,142.52 383.43,147.06 379.92,151.61 376.41,156.16 372.91,160.70 369.40,165.25 365.90,169.79 362.40,174.34 358.90,178.89 355.40,183.43 351.90,187.98 348.41,192.53 344.92,197.07 341.43,201.62 337.94,206.16 334.45,210.71 330.97,215.26 327.48,219.80 324.00,224.35 320.52,228.89 317.05,233.44 313.57,237.99 310.10,242.53 306.62,247.08 303.15,251.63 299.69,256.17 296.22,260.72 292.76,265.26 289.29,269.81 285.83,274.36 282.37,278.90 278.92,283.45 275.46,288.00 272.01,292.54 268.56,297.09 265.11,301.63 261.66,306.18 258.22,310.73 254.77,315.27 251.33,319.82 247.89,324.37 244.45,328.91 241.02,333.46 237.58,338.00 234.15,342.55 230.72,347.10 227.29,351.64 223.87,356.19 220.45,360.74 217.02,365.28 213.60,369.83 210.19,374.37 206.77,378.92 203.36,383.47 199.95,388.01 196.54,392.56 193.13,397.11 189.72,401.65 186.32,406.20 182.92,410.74 179.52,415.29 176.12,419.84 172.73,424.38 169.33,428.93 165.94,433.47 162.55,438.02 159.17,442.57 155.78,447.11 152.40,451.66 149.02,456.21 145.64,460.75 142.26,465.30 138.89,469.84 135.52,474.39 132.15,478.94 128.78,483.48 125.41,488.03 122.05,492.58 118.69,497.12 115.33,501.67 111.97,506.21 108.62,510.76 105.26,515.31 101.91,519.85 98.56,524.40 95.22,528.95 91.87,533.49 88.53,538.04 85.19,542.58 81.86,547.13 78.52,551.68 75.19,556.22 71.86,560.77 68.53,565.32 65.20,569.86 61.88,574.41 58.56,578.95 55.24,583.50" fill="none" stroke="#960096" stroke-width="1" /><polyline points="538.83,42.50 535.41,47.05 531.99,51.59 528.57,56.14 525.16,60.68 521.74,65.23 518.33,69.78 514.92,74.32 511.52,78.87 508.11,83.42 504.71,87.96 501.31,92.51 497.91,97.05 494.51,101.60 491.12,106.15 487.72,110.69 484.33,115.24 480.94,119.79 477.56,124.33 474.17,128.88 470.79,133.42 467.41,137.97 464.03,142.52 460.65,147.06 457.28,151.61 453.91,156.16 450.54,160.70 447.17,165.25 443.81,169.79 440.44,174.34 437.08,178.89 433.72,183.43 430.37,187.98 427.01,192.53 423.66,197.07 420.31,201.62 416.96,206.16 413.62,210.71 410.27,215.26 406.93,219.80 403.59,224.35 400.25,228.89 396.92,233.44 393.59,237.99 390.26,242.53 386.93,247.08 383.60,251.63 380.28,256.17 376.96,260.72 373.64,265.26 370.32,269.81 367.01,274.36 363.70,278.90 360.39,283.45 357.08,288.00 353.77,292.54 350.47,297.09 347.17,301.63 343.87,306.18 340.58,310.73 337.28,315.27 333.99,319.82 330.70,324.37 327.42,328.91 324.13,333.46 320.85,338.00 317.57,342.55 314.30,347.10 311.02,351.64 307.75,356.19 304.48,360.74 301.21,365.28 297.95,369.83 294.69,374.37 291.43,378.92 288.17,383.47 284.91,388.01 281.66,392.56 278.41,397.11 275.16,401.65 271.92,406.20 268.68,410.74 265.44,415.29 262.20,419.84 258.96,424.38 255.73,428.93 252.50,433.47 249.27,438.02 246.05,442.57 242.83,447.11 239.61,451.66 236.39,456.21 233.18,460.75 229.96,465.30 226.75,469.84 223.55,474.39 220.34,478.94 217.14,483.48 213.94,488.03 210.75,492.58 207.55,497.12 204.36,501.67 201.17,506.21 197.99,510.76 194.80,515.31 191.62,519.85 188.45,524.40 185.27,528.95 182.10,533.49 178.93,538.04 175.76,542.58 172.60,547.13 169.44,551.68 166.28,556.22 163.12,560.77 159.97,565.32 156.82,569.86 153.67,574.41 150.52,578.95 147.38,583.50" fill="none" stroke="#960096" stroke-width="1" /><polyline points="593.12,42.50 589.80,47.05 586.48,51.59 583.16,56.14 579.85,60.68 576.53,65.23 573.22,69.78 569.91,74.32 566.61,78.87 563.30,83.42 560.00,87.96 556.70,92.51 553.40,97.05 550.11,101.60 546.82,106.15 543.53,110.69 540.24,115.24 536.95,119.79 533.67,124.33 530.39,128.88 527.11,133.42 523.83,137.97 520.56,142.52 517.29,147.06 514.02,151.61 510.75,156.16 507.49,160.70 504.23,165.25 500.97,169.79 497.71,174.34 494.46,178.89 491.21,183.43 487.96,187.98 484.71,192.53 481.47,197.07 478.22,201.62 474.99,206.16 471.75,210.71 468.51,215.26 465.28,219.80 462.05,224.35 458.83,228.89 455.60,233.44 452.38,237.99 449.16,242.53 445.95,247.08 442.73,251.63 439.52,256.17 436.31,260.72 433.11,265.26 429.90,269.81 426.70,274.36 423.50,278.90 420.31,283.45 417.12,288.00 413.93,292.54 410.74,297.09 407.55,301.63 404.37,306.18 401.19,310.73 398.01,315.27 394.84,319.82 391.67,324.37 388.50,328.91 385.33,333.46 382.17,338.00 379.01,342.55 375.85,347.10 372.70,351.64 369.54,356.19 366.39,360.74 363.25,365.28 360.10,369.83 356.96,374.37 353.82,378.92 350.69,383.47 347.56,388.01 344.43,392.56 341.30,397.11 338.17,401.65 335.05,406.20 331.93,410.74 328.82,415.29 325.70,419.84 322.59,424.38 319.49,428.93 316.38,433.47 313.28,438.02 310.18,442.57 307.09,447.11 304.00,451.66 300.91,456.21 297.82,460.75 294.74,465.30 291.65,469.84 288.58,474.39 285.50,478.94 282.43,483.48 279.36,488.03 276.30,492.58 273.23,497.12 270.17,501.67 267.12,506.21 264.06,510.76 261.01,515.31 257.97,519.85 254.92,524.40 251.88,528.95 248.84,533.49 245.81,538.04 242.77,542.58 239.75,547.13 236.72,551.68 233.70,556.22 230.68,560.77 227.66,565.32 224.65,569.86 221.64,574.41 218.63,578.95 215.63,583.50" fill="none" stroke="#960096" stroke-width="1" /><polyline points="637.34,42.50 634.10,47.05 630.86,51.59 627.63,56.14 624.40,60.68 621.17,65.23 617.94,69.78 614.72,74.32 611.50,78.87 608.28,83.42 605.06,87.96 601.85,92.51 598.64,97.05 595.43,101.60 592.22,106.15 589.02,110.69 585.82,115.24 582.62,119.79 579.42,124.33 576.23,128.88 573.04,133.42 569.85,137.97 566.67,142.52 563.49,147.06 560.31,151.61 557.13,156.16 553.96,160.70 550.78,165.25 547.62,169.79 544.45,174.34 541.29,178.89 538.12,183.43 534.97,187.98 531.81,192.53 528.66,197.07 525.51,201.62 522.36,206.16 519.22,210.71 516.08,215.26 512.94,219.80 509.80,224.35 506.67,228.89 503.54,233.44 500.41,237.99 497.29,242.53 494.17,247.08 491.05,251.63 487.93,256.17 484.82,260.72 481.71,265.26 478.60,269.81 475.50,274.36 472.40,278.90 469.30,283.45 466.20,288.00 463.11,292.54 460.02,297.09 456.93,301.63 453.85,306.18 450.77,310.73 447.69,315.27 444.62,319.82 441.55,324.37 438.48,328.91 435.41,333.46 432.35,338.00 429.29,342.55 426.23,347.10 423.18,351.64 420.13,356.19 417.08,360.74 414.04,365.28 410.99,369.83 407.96,374.37 404.92,378.92 401.89,383.47 398.86,388.01 395.83,392.56 392.81,397.11 389.79,401.65 386.78,406.20 383.76,410.74 380.75,415.29 377.75,419.84 374.74,424.38 371.74,428.93 368.75,433.47 365.75,438.02 362.76,442.57 359.77,447.11 356.79,451.66 353.81,456.21 350.83,460.75 347.86,465.30 344.89,469.84 341.92,474.39 338.96,478.94 336.00,483.48 333.04,488.03 330.08,492.58 327.13,497.12 324.19,501.67 321.24,506.21 318.30,510.76 315.36,515.31 312.43,519.85 309.50,524.40 306.57,528.95 303.65,533.49 300.73,538.04 297.81,542.58 294.90,547.13 291.99,551.68 289.09,556.22 286.18,560.77 283.29,565.32 280.39,569.86 277.50,574.41 274.61,578.95 271.73,583.50" fill="none" stroke="#960096" stroke-width="1" /><polyline points="684.51,42.50 681.36,47.05 678.22,51.59 675.08,56.14 671.94,60.68 668.80,65.23 665.67,69.78 662.54,74.32 659.41,78.87 656.29,83.42 653.17,87.96 650.05,92.51 646.93,97.05 643.82,101.60 640.71,106.15 637.60,110.69 634.50,115.24 631.39,119.79 628.30,124.33 625.20,128.88 622.11,133.42 619.02,137.97 615.93,142.52 612.85,147.06 609.77,151.61 606.69,156.16 603.61,160.70 600.54,165.25 597.47,169.79 594.41,174.34 591.34,178.89 588.28,183.43 585.23,187.98 582.17,192.53 579.12,197.07 576.07,201.62 573.03,206.16 569.99,210.71 566.95,215.26 563.91,219.80 560.88,224.35 557.85,228.89 554.83,233.44 551.80,237.99 548.78,242.53 545.77,247.08 542.75,251.63 539.74,256.17 536.74,260.72 533.73,265.26 530.73,269.81 527.74,274.36 524.74,278.90 521.75,283.45 518.76,288.00 515.78,292.54 512.80,297.09 509.82,301.63 506.85,306.18 503.88,310.73 500.91,315.27 497.94,319.82 494.98,324.37 492.02,328.91 489.07,333.46 486.12,338.00 483.17,342.55 480.23,347.10 477.29,351.64 474.35,356.19 471.42,360.74 468.48,365.28 465.56,369.83 462.63,374.37 459.71,378.92 456.80,383.47 453.88,388.01 450.97,392.56 448.07,397.11 445.17,401.65 442.27,406.20 439.37,410.74 436.48,415.29 433.59,419.84 430.71,424.38 427.83,428.93 424.95,433.47 422.07,438.02 419.20,442.57 416.34,447.11 413.47,451.66 410.61,456.21 407.76,460.75 404.91,465.30 402.06,469.84 399.21,474.39 396.37,478.94 393.54,483.48 390.70,488.03 387.87,492.58 385.05,497.12 382.23,501.67 379.41,506.21 376.59,510.76 373.78,515.31 370.98,519.85 368.17,524.40 365.37,528.95 362.58,533.49 359.79,538.04 357.00,542.58 354.22,547.13 351.44,551.68 348.66,556.22 345.89,560.77 343.12,565.32 340.36,569.86 337.60,574.41 334.84,578.95 332.09,583.50" fill="none" stroke="#960096" stroke-width="1" /><polyline points="724.88,42.50 721.82,47.05 718.75,51.59 715.70,56.14 712.64,60.68 709.58,65.23 706.53,69.78 703.49,74.32 700.44,78.87 697.40,83.42 694.36,87.96 691.33,92.51 688.30,97.05 685.27,101.60 682.24,106.15 679.22,110.69 676.20,115.24 673.18,119.79 670.17,124.33 667.16,128.88 664.15,133.42 661.15,137.97 658.15,142.52 655.15,147.06 652.16,151.61 649.17,156.16 646.18,160.70 643.20,165.25 640.22,169.79 637.24,174.34 634.27,178.89 631.29,183.43 628.33,187.98 625.36,192.53 622.40,197.07 619.44,201.62 616.49,206.16 613.54,210.71 610.59,215.26 607.65,219.80 604.71,224.35 601.77,228.89 598.84,233.44 595.91,237.99 592.98,242.53 590.06,247.08 587.14,251.63 584.22,256.17 581.31,260.72 578.40,265.26 575.49,269.81 572.59,274.36 569.69,278.90 566.80,283.45 563.91,288.00 561.02,292.54 558.13,297.09 555.25,301.63 552.37,306.18 549.50,310.73 546.63,315.27 543.76,319.82 540.90,324.37 538.04,328.91 535.19,333.46 532.34,338.00 529.49,342.55 526.64,347.10 523.80,351.64 520.97,356.19 518.13,360.74 515.30,365.28 512.48,369.83 509.66,374.37 506.84,378.92 504.02,383.47 501.21,388.01 498.41,392.56 495.61,397.11 492.81,401.65 490.01,406.20 487.22,410.74 484.43,415.29 481.65,419.84 478.87,424.38 476.10,428.93 473.33,433.47 470.56,438.02 467.80,442.57 465.04,447.11 462.28,451.66 459.53,456.21 456.78,460.75 454.04,465.30 451.30,469.84 448.57,474.39 445.83,478.94 443.11,483.48 440.39,488.03 437.67,492.58 434.95,497.12 432.24,501.67 429.54,506.21 426.83,510.76 424.14,515.31 421.44,519.85 418.75,524.40 416.07,528.95 413.39,533.49 410.71,538.04 408.04,542.58 405.37,547.13 402.71,551.68 400.05,556.22 397.40,560.77 394.75,565.32 392.10,569.86 389.46,574.41 386.82,578.95 384.19,583.50" fill="none" stroke="#960096" stroke-width="1" /><polyline points="751.71,42.50 748.70,47.05 745.69,51.59 742.69,56.14 739.69,60.68 736.69,65.23 733.70,69.78 730.71,74.32 727.72,78.87 724.73,83.42 721.75,87.96 718.77,92.51 715.80,97.05 712.83,101.60 709.86,106.15 706.89,110.69 703.93,115.24 700.97,119.79 698.02,124.33 695.07,128.88 692.12,133.42 689.18,137.97 686.23,142.52 683.30,147.06 680.36,151.61 677.43,156.16 674.50,160.70 671.58,165.25 668.66,169.79 665.74,174.34 662.83,178.89 659.92,183.43 657.01,187.98 654.11,192.53 651.21,197.07 648.31,201.62 645.42,206.16 642.53,210.71 639.65,215.26 636.77,219.80 633.89,224.35 631.01,228.89 628.14,233.44 625.28,237.99 622.41,242.53 619.55,247.08 616.70,251.63 613.85,256.17 611.00,260.72 608.15,265.26 605.31,269.81 602.47,274.36 599.64,278.90 596.81,283.45 593.98,288.00 591.16,292.54 588.34,297.09 585.53,301.63 582.72,306.18 579.91,310.73 577.11,315.27 574.31,319.82 571.51,324.37 568.72,328.91 565.93,333.46 563.15,338.00 560.37,342.55 557.59,347.10 554.82,351.64 552.05,356.19 549.29,360.74 546.53,365.28 543.77,369.83 541.02,374.37 538.27,378.92 535.53,383.47 532.79,388.01 530.05,392.56 527.32,397.11 524.59,401.65 521.87,406.20 519.15,410.74 516.44,415.29 513.73,419.84 511.02,424.38 508.32,428.93 505.62,433.47 502.92,438.02 500.23,442.57 497.55,447.11 494.87,451.66 492.19,456.21 489.52,460.75 486.85,465.30 484.18,469.84 481.52,474.39 478.87,478.94 476.22,483.48 473.57,488.03 470.93,492.58 468.29,497.12 465.66,501.67 463.03,506.21 460.40,510.76 457.78,515.31 455.17,519.85 452.56,524.40 449.95,528.95 447.35,533.49 444.75,538.04 442.16,542.58 439.57,547.13 436.98,551.68 434.41,556.22 431.83,560.77 429.26,565.32 426.70,569.86 424.14,574.41 421.58,578.95 419.03,583.50" fill="none" stroke="#960096" stroke-width="1" /><polyline points="788.36,42.50 785.42,47.05 782.49,51.59 779.57,56.14 776.64,60.68 773.72,65.23 770.81,69.78 767.90,74.32 764.99,78.87 762.08,83.42 759.18,87.96 756.28,92.51 753.39,97.05 750.50,101.60 747.61,106.15 744.72,110.69 741.84,115.24 738.97,119.79 736.09,124.33 733.22,128.88 730.36,133.42 727.50,137.97 724.64,142.52 721.78,147.06 718.93,151.61 716.08,156.16 713.24,160.70 710.40,165.25 707.56,169.79 704.73,174.34 701.90,178.89 699.08,183.43 696.26,187.98 693.44,192.53 690.62,197.07 687.82,201.62 685.01,206.16 682.21,210.71 679.41,215.26 676.61,219.80 673.82,224.35 671.04,228.89 668.26,233.44 665.48,237.99 662.70,242.53 659.93,247.08 657.16,251.63 654.40,256.17 651.64,260.72 648.89,265.26 646.14,269.81 643.39,274.36 640.65,278.90 637.91,283.45 635.17,288.00 632.44,292.54 629.72,297.09 627.00,301.63 624.28,306.18 621.56,310.73 618.85,315.27 616.15,319.82 613.45,324.37 610.75,328.91 608.06,333.46 605.37,338.00 602.68,342.55 600.00,347.10 597.33,351.64 594.66,356.19 591.99,360.74 589.33,365.28 586.67,369.83 584.01,374.37 581.36,378.92 578.72,383.47 576.08,388.01 573.44,392.56 570.81,397.11 568.18,401.65 565.56,406.20 562.94,410.74 560.33,415.29 557.72,419.84 555.11,424.38 552.51,428.93 549.91,433.47 547.32,438.02 544.74,442.57 542.15,447.11 539.58,451.66 537.00,456.21 534.43,460.75 531.87,465.30 529.31,469.84 526.76,474.39 524.21,478.94 521.66,483.48 519.12,488.03 516.59,492.58 514.06,497.12 511.53,501.67 509.01,506.21 506.49,510.76 503.98,515.31 501.48,519.85 498.97,524.40 496.48,528.95 493.99,533.49 491.50,538.04 489.02,542.58 486.54,547.13 484.07,551.68 481.60,556.22 479.14,560.77 476.68,565.32 474.23,569.86 471.79,574.41 469.35,578.95 466.91,583.50" fill="none" stroke="#960096" stroke-width="1" /><polyline points="821.10,42.50 818.23,47.05 815.37,51.59 812.52,56.14 809.67,60.68 806.82,65.23 803.98,69.78 801.14,74.32 798.30,78.87 795.47,83.42 792.64,87.96 789.81,92.51 786.99,97.05 784.17,101.60 781.36,106.15 778.55,110.69 775.74,115.24 772.94,119.79 770.14,124.33 767.35,128.88 764.55,133.42 761.77,137.97 758.98,142.52 756.21,147.06 753.43,151.61 750.66,156.16 747.89,160.70 745.13,165.25 742.37,169.79 739.61,174.34 736.86,178.89 734.12,183.43 731.37,187.98 728.63,192.53 725.90,197.07 723.17,201.62 720.44,206.16 717.72,210.71 715.00,215.26 712.29,219.80 709.58,224.35 706.87,228.89 704.17,233.44 701.47,237.99 698.78,242.53 696.09,247.08 693.40,251.63 690.72,256.17 688.05,260.72 685.37,265.26 682.71,269.81 680.04,274.36 677.38,278.90 674.73,283.45 672.08,288.00 669.43,292.54 666.79,297.09 664.15,301.63 661.52,306.18 658.89,310.73 656.27,315.27 653.65,319.82 651.04,324.37 648.43,328.91 645.82,333.46 643.22,338.00 640.62,342.55 638.03,347.10 635.44,351.64 632.86,356.19 630.28,360.74 627.71,365.28 625.14,369.83 622.57,374.37 620.02,378.92 617.46,383.47 614.91,388.01 612.36,392.56 609.82,397.11 607.29,401.65 604.76,406.20 602.23,410.74 599.71,415.29 597.19,419.84 594.68,424.38 592.17,428.93 589.67,433.47 587.18,438.02 584.68,442.57 582.20,447.11 579.71,451.66 577.24,456.21 574.76,460.75 572.30,465.30 569.83,469.84 567.38,474.39 564.93,478.94 562.48,483.48 560.04,488.03 557.60,492.58 555.17,497.12 552.74,501.67 550.32,506.21 547.90,510.76 545.49,515.31 543.09,519.85 540.69,524.40 538.29,528.95 535.90,533.49 533.52,538.04 531.14,542.58 528.77,547.13 526.40,551.68 524.03,556.22 521.68,560.77 519.32,565.32 516.98,569.86 514.64,574.41 512.30,578.95 509.97,583.50" fill="none" stroke="#960096" stroke-width="1" /><polyline points="844.89,42.50 842.08,47.05 839.28,51.59 836.47,56.14 833.68,60.68 830.88,65.23 828.09,69.78 825.30,74.32 822.52,78.87 819.74,83.42 816.96,87.96 814.19,92.51 811.43,97.05 808.66,101.60 805.90,106.15 803.15,110.69 800.40,115.24 797.65,119.79 794.90,124.33 792.17,128.88 789.43,133.42 786.70,137.97 783.97,142.52 781.25,147.06 778.53,151.61 775.82,156.16 773.11,160.70 770.40,165.25 767.70,169.79 765.00,174.34 762.31,178.89 759.62,183.43 756.93,187.98 754.25,192.53 751.57,197.07 748.90,201.62 746.23,206.16 743.57,210.71 740.91,215.26 738.26,219.80 735.61,224.35 732.96,228.89 730.32,233.44 727.68,237.99 725.05,242.53 722.42,247.08 719.79,251.63 717.18,256.17 714.56,260.72 711.95,265.26 709.34,269.81 706.74,274.36 704.15,278.90 701.55,283.45 698.96,288.00 696.38,292.54 693.80,297.09 691.23,301.63 688.66,306.18 686.10,310.73 683.54,315.27 680.98,319.82 678.43,324.37 675.88,328.91 673.34,333.46 670.81,338.00 668.28,342.55 665.75,347.10 663.23,351.64 660.71,356.19 658.20,360.74 655.69,365.28 653.19,369.83 650.69,374.37 648.20,378.92 645.71,383.47 643.23,388.01 640.75,392.56 638.28,397.11 635.81,401.65 633.35,406.20 630.89,410.74 628.44,415.29 625.99,419.84 623.55,424.38 621.11,428.93 618.68,433.47 616.25,438.02 613.83,442.57 611.42,447.11 609.00,451.66 606.60,456.21 604.20,460.75 601.80,465.30 599.41,469.84 597.03,474.39 594.65,478.94 592.27,483.48 589.91,488.03 587.54,492.58 585.18,497.12 582.83,501.67 580.49,506.21 578.14,510.76 575.81,515.31 573.48,519.85 571.15,524.40 568.83,528.95 566.52,533.49 564.21,538.04 561.91,542.58 559.61,547.13 557.32,551.68 555.04,556.22 552.76,560.77 550.48,565.32 548.21,569.86 545.95,574.41 543.69,578.95 541.44,583.50" fill="none" stroke="#960096" stroke-width="1" /><polyline points="863.63,42.50 860.86,47.05 858.10,51.59 855.33,56.14 852.58,60.68 849.82,65.23 847.08,69.78 844.33,74.32 841.59,78.87 838.85,83.42 836.12,87.96 833.39,92.51 830.67,97.05 827.95,101.60 825.23,106.15 822.52,110.69 819.81,115.24 817.11,119.79 814.41,124.33 811.72,128.88 809.03,133.42 806.34,137.97 803.66,142.52 800.98,147.06 798.31,151.61 795.64,156.16 792.97,160.70 790.31,165.25 787.65,169.79 785.00,174.34 782.35,178.89 779.71,183.43 777.07,187.98 774.44,192.53 771.81,197.07 769.18,201.62 766.56,206.16 763.95,210.71 761.33,215.26 758.73,219.80 756.12,224.35 753.52,228.89 750.93,233.44 748.34,237.99 745.76,242.53 743.18,247.08 740.60,251.63 738.03,256.17 735.46,260.72 732.90,265.26 730.35,269.81 727.79,274.36 725.25,278.90 722.70,283.45 720.17,288.00 717.63,292.54 715.11,297.09 712.58,301.63 710.06,306.18 707.55,310.73 705.04,315.27 702.54,319.82 700.04,324.37 697.54,328.91 695.06,333.46 692.57,338.00 690.09,342.55 687.62,347.10 685.15,351.64 682.68,356.19 680.23,360.74 677.77,365.28 675.32,369.83 672.88,374.37 670.44,378.92 668.01,383.47 665.58,388.01 663.15,392.56 660.74,397.11 658.32,401.65 655.92,406.20 653.51,410.74 651.12,415.29 648.73,419.84 646.34,424.38 643.96,428.93 641.58,433.47 639.21,438.02 636.85,442.57 634.49,447.11 632.13,451.66 629.78,456.21 627.44,460.75 625.10,465.30 622.77,469.84 620.44,474.39 618.12,478.94 615.81,483.48 613.50,488.03 611.19,492.58 608.89,497.12 606.60,501.67 604.31,506.21 602.03,510.76 599.76,515.31 597.49,519.85 595.22,524.40 592.96,528.95 590.71,533.49 588.46,538.04 586.22,542.58 583.99,547.13 581.76,551.68 579.53,556.22 577.32,560.77 575.11,565.32 572.90,569.86 570.70,574.41 568.51,578.95 566.32,583.50" fill="none" stroke="#960096" stroke-width="1" /><line x1="306.00" y1="143.5" x2="162.00" y2="287.5" stroke="#00008c"/><line x1="420.00" y1="192.5" x2="200.00" y2="412.5" stroke="#00008c"/><line x1="474.00" y1="236.5" x2="266.00" y2="444.5" stroke="#00008c"/><line x1="498.00" y1="278.5" x2="326.00" y2="450.5" stroke="#00008c"/><line x1="494.00" y1="380.5" x2="387.00" y2="487.5" stroke="#00008c"/><line x1="62" y1="42.5" x2="618" y2="42.5" stroke="#00008c"/><line x1="62" y1="135.5" x2="618" y2="135.5" stroke="#00008c"/><line x1="62" y1="201.5" x2="618" y2="201.5" stroke="#00008c"/><line x1="62" y1="253.5" x2="618" y2="253.5" stroke="#00008c"/><line x1="62" y1="295.5" x2="618" y2="295.5" stroke="#00008c"/><line x1="62" y1="330.5" x2="618" y2="330.5" stroke="#00008c"/><line x1="62" y1="361.5" x2="618" y2="361.5" stroke="#00008c"/><line x1="62" y1="388.5" x2="618" y2="388.5" stroke="#00008c"/><line x1="62" y1="412.5" x2="618" y2="412.5" stroke="#00008c"/><line x1="62" y1="434.5" x2="618" y2="434.5" stroke="#00008c"/><line x1="62" y1="454.5" x2="618" y2="454.5" stroke="#00008c"/><line x1="62" y1="473.5" x2="618" y2="473.5" stroke="#00008c"/><line x1="62" y1="490.5" x2="618" y2="490.5" stroke="#00008c"/><line x1="62" y1="506.5" x2="618" y2="506.5" stroke="#00008c"/><line x1="62" y1="520.5" x2="618" y2="520.5" stroke="#00008c"/><line x1="62" y1="534.5" x2="618" y2="534.5" stroke="#00008c"/><line x1="62" y1="548.5" x2="618" y2="548.5" stroke="#00008c"/><line x1="62" y1="560.5" x2="618" y2="560.5" stroke="#00008c"/><line x1="62" y1="572.5" x2="618" y2="572.5" stroke="#00008c"/><line x1="62" y1="583.5" x2="618" y2="583.5" stroke="#00008c"/></g>
<rect x="62.5" y="42.5" width="555" height="541" fill="none" stroke="#00008c" shape-rendering="crispEdges"/>
<defs><clipPath id="c2"><rect x="60" y="42" width="560" height="542"/></clipPath></defs><g clip-path="url(#c2)" shape-rendering="crispEdges">
<polyline points="335.2,442.9 339.4,449.5 343.5,456.0 347.5,462.6 351.3,469.2 355.0,475.7 358.6,482.3 362.0,488.8 365.3,495.4 368.5,502.0 371.5,508.5 374.4,515.1 377.1,521.7 379.7,528.2 382.2,534.8 384.6,541.4 386.8,547.9 389.0,554.5 391.0,561.1 393.7,563.2 396.4,565.4 399.2,567.6 401.9,569.7 404.7,571.8" fill="none" stroke="#b4b4b4" stroke-width="1.0" stroke-linejoin="round" stroke-linecap="round" />
<polyline points="102.3,42.5 104.1,49.1 105.9,55.6 107.8,62.2 109.8,68.8 111.9,75.3 114.0,81.9 116.2,88.4 118.4,95.0 120.8,101.6 123.2,108.1 125.7,114.7 128.2,121.3 130.8,127.8 133.6,134.4 136.3,141.0 139.2,147.5 142.1,154.1 145.1,160.7 148.2,167.2 151.4,173.8 154.6,180.3 157.9,186.9 161.3,193.5 164.8,200.0 168.4,206.6 172.0,213.2 175.8,219.7 179.6,226.3 183.5,232.9 187.4,239.4 191.5,246.0 195.6,252.5 199.8,259.1 204.1,265.7 208.4,272.2 212.9,278.8 217.4,285.4 222.0,291.9 226.6,298.5 231.4,305.1 236.1,311.6 241.0,318.2 245.9,324.8 250.8,331.3 255.8,337.9 260.8,344.4 265.8,351.0 270.9,357.6 276.0,364.1 281.0,370.7 286.1,377.3 291.1,383.8 296.1,390.4 301.1,397.0 306.0,403.5 310.8,410.1 315.6,416.6 320.3,423.2 324.8,429.8 329.3,436.3 333.7,442.9 337.9,449.5 342.0,456.0 346.0,462.6 349.8,469.2 353.5,475.7 357.1,482.3 360.5,488.8 363.8,495.4 367.0,502.0 370.0,508.5 372.9,515.1 375.6,521.7 378.2,528.2 380.7,534.8 383.1,541.4 385.3,547.9 387.5,554.5 389.5,561.1 392.2,563.2 394.9,565.4 397.7,567.6 400.4,569.7 403.2,571.8" fill="none" stroke="#6e6e6e" stroke-width="2.0" stroke-linejoin="round" stroke-linecap="round" />
<polyline points="519.5,42.5 519.4,43.6 517.8,47.3 516.7,51.0 512.1,54.6 508.9,57.1 504.8,60.3 502.4,67.6 499.1,74.9 497.5,76.6 491.0,79.0 485.3,82.2 481.3,87.9 476.4,93.6 472.8,100.1 471.5,106.6 469.9,113.1 464.2,114.4 458.5,116.4 456.9,119.6 456.5,127.7 456.2,135.7 453.7,140.6 447.2,144.6 437.5,149.5 427.7,154.4 419.6,160.1 418.0,167.4 416.4,175.5 408.2,180.4 400.1,186.1 396.1,190.1 396.1,196.6 396.9,202.3 388.7,203.9 379.8,206.4 378.2,212.1 372.5,214.5 363.6,218.6 361.1,225.0 358.6,235.4 350.5,240.3 340.7,246.8 332.6,252.5 327.7,256.6 319.6,263.1 311.5,269.6 308.2,273.6 305.8,277.7 305.0,280.9 306.6,284.2 298.5,288.2 288.7,293.1 280.0,297.0 269.0,300.8 258.0,304.5 253.5,309.0 243.0,312.0 242.5,315.0 247.5,320.0 250.6,325.0 250.6,330.0 256.9,337.5 266.2,348.8 276.2,360.0 287.5,375.0 290.0,380.0 298.8,390.0 301.9,396.9 300.6,399.4 305.0,406.2 308.8,413.8 317.5,425.0 326.5,438.0 334.2,446.6 341.9,456.4 344.0,460.8 341.3,464.0 345.1,467.9 349.5,475.0 353.9,483.7 360.4,492.5 366.5,505.1 367.2,517.5 372.9,530.0 377.2,538.6 380.6,542.9 385.8,550.6 394.4,561.8 400.4,569.5 401.0,571.0" fill="none" stroke="#000" stroke-width="2.8" stroke-linejoin="round" stroke-linecap="round" />
<polyline points="305.0,42.5 303.3,44.7 302.2,50.9 296.3,55.6 290.0,60.3 283.8,68.1 277.5,74.4 270.5,80.6 265.0,90.0 258.8,99.4 249.4,112.7 243.1,114.2 237.7,115.8 235.3,118.9 235.3,133.8 231.2,137.8 223.4,141.7 215.6,146.4 207.8,151.9 198.4,159.7 196.6,163.6 196.1,170.6 195.3,175.3 184.4,181.6 173.4,189.4 171.1,195.6 168.8,201.9 165.6,203.4 157.8,206.6 156.2,209.7 154.7,219.1 145.3,227.2 135.2,235.8 129.7,244.4 124.2,253.0 125.8,261.6 128.1,272.5 130.0,284.0 125.0,290.0 117.0,295.0 110.0,296.5 99.0,298.5 88.0,299.5 77.0,300.5 61.0,301.5 61.0,302.5 78.0,303.5 107.0,304.0 130.0,304.0 142.5,304.8 155.0,305.6 167.5,307.1 180.0,308.8 192.5,310.2 205.0,311.5 211.2,312.5 216.9,314.8 209.5,324.0 212.5,325.6 220.0,330.0 220.0,350.0 231.2,356.2 243.8,361.9 246.9,365.0 245.6,373.8 262.5,380.6 265.6,390.0 277.5,394.4 287.5,396.2 262.5,398.8 237.5,402.5 212.5,405.3 237.5,412.0 222.5,417.5 205.0,422.5 226.2,428.1 251.2,433.1 250.6,440.0 277.5,442.2 262.5,450.6 245.0,453.8 212.5,458.1 225.0,458.8 262.5,461.9 302.5,464.4 233.8,469.4 262.5,473.8 287.5,478.8 312.5,483.1 311.2,487.5 303.0,494.5 318.6,501.1 315.6,505.8 303.0,509.0 317.0,512.0 336.2,516.8 339.0,519.6 333.5,525.0 344.5,529.9 360.0,537.7 364.3,538.4 364.0,540.0 361.0,540.8 370.0,548.0 379.8,560.0 392.7,567.0 394.0,570.4 386.0,571.0" fill="none" stroke="#000" stroke-width="2.8" stroke-linejoin="round" stroke-linecap="round" />
</g>
<g fill="none" stroke="#000" stroke-width="1.1" stroke-linecap="square">
<polyline points="662.2,47.5 645.8,22.8"/>
<polyline points="648.9,24.8 652,23.3"/>
<polyline points="662.7,66 652.5,94.5"/>
<polyline points="662.5,80 662.5,110"/>
<polyline points="662,95 658.75,109.4 655.6,113 655.4,119.4"/>
<polyline points="632.5,105 633.5,115.5 662.5,123.5"/>
<polyline points="644,122.5 650,121.25 655,120.5"/>
<polyline points="652.5,113.4 655.5,113"/>
<polyline points="663,134.9 637.3,152.4 629.1,146.2"/>
<polyline points="642.2,149.1 638.4,146.2"/>
<polyline points="662.4,146.4 659.7,162.8 656,175 653.7,185 649.3,195.6"/>
<polyline points="662.4,168.3 655.5,180"/>
<polyline points="648.2,173.5 657.5,171.5"/>
<polyline points="647.1,178.1 655.9,177"/>
<polyline points="644.4,186.3 653.7,185.2"/>
<polyline points="638.9,194.5 649.9,195 650.4,192.3"/>
<polyline points="662.7,179.2 658.6,204.8 657,209.5"/>
<polyline points="661.9,191.2 672.3,219 664.1,225.6"/>
<polyline points="653.1,205.4 658.6,204.8"/>
<polyline points="647.1,211.4 657,209.8"/>
<polyline points="663,203.2 643.3,226.7 634,223.2"/>
<polyline points="663,215.2 641.7,236 632.4,232.2"/>
<polyline points="637.3,231.1 639.5,234.3"/>
<polyline points="663,226.1 641.1,234.9"/>
<polyline points="663,239.3 634.6,249.1 628,240.9"/>
<polyline points="638.4,247.5 636.2,244.2"/>
<polyline points="663,252.9 637.8,270.3 629.1,264.3"/>
<polyline points="663,263.2 645.5,283.4"/>
<polyline points="641.1,280.1 645.5,281.8"/>
<polyline points="634,283.2 643.9,286.7"/>
<polyline points="634,285 642.8,290"/>
<polyline points="663,274.1 639.5,293.3 630.2,288.3"/>
<polyline points="663,286.1 653.1,314.6 642.2,314.6"/>
<polyline points="653.1,309.1 648.2,309.1"/>
<polyline points="663,302 654.8,330.9 644.4,332.6"/>
<polyline points="654.8,326.6 651,326.6"/>
<polyline points="662.4,313.3 687.8,339.5"/>
<polyline points="662.4,322.7 682,335.5 676.1,345.3"/>
<polyline points="681.6,337.5 681.2,341.4"/>
<polyline points="662.4,332 675.3,359 666.4,364.7"/>
<polyline points="673.4,355.8 666.9,361.4"/>
<polyline points="669.2,364.2 677.6,378.3 672,386.2"/>
<polyline points="673.9,375 671.6,378.3"/>
<polyline points="662.4,343 664,353.4 666,359 666.4,365 666.9,373.1 672,386.2"/>
<polyline points="662.65,367.5 665.5,373.1 665.5,375 658.4,378.3"/>
<polyline points="662.4,385 662.4,416.7"/>
<polyline points="672,386.2 675.3,393.7 668.3,401.2"/>
<polyline points="666.4,397.5 673,391"/>
<polyline points="653.1,413.4 661.9,410.7"/>
<polyline points="653.1,418.3 661.9,415.6"/>
<polyline points="662.4,399.2 669,424.3"/>
<polyline points="660.8,427.1 667.9,423.3"/>
<polyline points="662.4,426.5 673.4,448.4"/>
<polyline points="665.7,418.9 679.4,441.3 669,455"/>
<polyline points="673.4,440.7 676.1,436.4"/>
<polyline points="662.4,447.3 663.5,455"/>
<polyline points="663,450 663.5,460.9 669,477.3 670.1,485 664.6,489.3"/>
<polyline points="675.6,453.8 668.4,460.9"/>
<polyline points="669,450 675.6,453.8"/>
<polyline points="662.4,467.5 663.5,490.4 663,520"/>
<polyline points="658.1,482.2 663,480"/>
<polyline points="665.2,481.7 667.9,478.4"/>
<polyline points="665.2,491.5 665.2,497"/>
<polyline points="655.9,501.4 660.8,499.7"/>
<polyline points="665.7,502.5 665.7,507.4 661.3,508.5"/>
<polyline points="660.8,510.7 655.9,511.7"/>
<polyline points="653.1,518.3 658.1,517.8"/>
<polyline points="663.5,515 661.4,533.3"/>
<polyline points="647.3,524.1 657.9,521.3"/>
<polyline points="653.6,517.8 657.9,517.1"/>
<polyline points="657.9,515 657.9,521.3"/>
<polyline points="661.4,523.4 664.2,531.9 665.6,536.8 661.5,537.5"/>
<polyline points="663.5,520.6 660.7,562.8"/>
<polyline points="656.5,540.3 660.7,539.6"/>
<polyline points="655.8,544.5 660,543.8"/>
<polyline points="649.4,551.6 659.3,548.8"/>
<polyline points="653.6,560 657.9,559.3"/>
<polyline points="647.3,566.3 658.6,563.5"/>
<polyline points="655.8,572 659.3,571.3"/>
<polyline points="649.4,579.7 660,576.2"/>
<polyline points="659.3,588.8 664.2,587.4"/>
<polyline points="656.5,596.6 665.6,592.4"/>
<polyline points="662.8,546.6 660,576.9"/>
<polyline points="664.2,576.9 664.9,592.4"/>
<polyline points="662.8,562.8 664.2,576.9"/>
<polyline points="663.5,574 677.6,597.3"/>
<polyline points="677.6,597.3 674,594.5 672,598"/>
<circle cx="662.8" cy="108" r="3.75"/>
</g>
<text x="3.5" y="29.5" font-size="17.5" font-weight="bold" fill="#000" textLength="50.5" lengthAdjust="spacingAndGlyphs">03808</text>
<text x="64" y="29.5" font-size="17.5" font-weight="bold" fill="#000" textLength="92" lengthAdjust="spacingAndGlyphs">Camborne</text>
<text x="46" y="46.9" font-size="17" text-anchor="end" fill="#00008c" stroke="#00008c" stroke-width="0.45">100</text>
<text x="46" y="206.4" font-size="17" text-anchor="end" fill="#00008c" stroke="#00008c" stroke-width="0.45">200</text>
<text x="46" y="299.7" font-size="17" text-anchor="end" fill="#00008c" stroke="#00008c" stroke-width="0.45">300</text>
<text x="46" y="365.9" font-size="17" text-anchor="end" fill="#00008c" stroke="#00008c" stroke-width="0.45">400</text>
<text x="46" y="417.2" font-size="17" text-anchor="end" fill="#00008c" stroke="#00008c" stroke-width="0.45">500</text>
<text x="46" y="459.1" font-size="17" text-anchor="end" fill="#00008c" stroke="#00008c" stroke-width="0.45">600</text>
<text x="46" y="494.6" font-size="17" text-anchor="end" fill="#00008c" stroke="#00008c" stroke-width="0.45">700</text>
<text x="46" y="525.3" font-size="17" text-anchor="end" fill="#00008c" stroke="#00008c" stroke-width="0.45">800</text>
<text x="46" y="552.4" font-size="17" text-anchor="end" fill="#00008c" stroke="#00008c" stroke-width="0.45">900</text>
<text x="44.5" y="576.7" font-size="17" text-anchor="end" fill="#00008c" stroke="#00008c" stroke-width="0.45">1000</text>
<text x="65" y="45.9" font-size="12.3" fill="#000">16080 m</text>
<text x="65" y="139.2" font-size="12.3" fill="#000">13450 m</text>
<text x="65" y="205.4" font-size="12.3" fill="#000">11550 m</text>
<text x="65" y="256.7" font-size="12.3" fill="#000">10090 m</text>
<text x="65" y="298.7" font-size="12.3" fill="#000">8890 m</text>
<text x="65" y="364.9" font-size="12.3" fill="#000">7010 m</text>
<text x="65" y="416.2" font-size="12.3" fill="#000">5450 m</text>
<text x="65" y="493.6" font-size="12.3" fill="#000">2936 m</text>
<text x="65" y="538.3" font-size="12.3" fill="#000">1405 m</text>
<text x="65" y="557.7" font-size="12.3" fill="#000">719 m</text>
<text x="65" y="575.7" font-size="12.3" fill="#000">76 m</text>
<text x="62.5" y="609.7" font-size="17" text-anchor="middle" fill="#00008c" stroke="#00008c" stroke-width="0.45">40</text>
<text x="53.0" y="609.7" font-size="17" text-anchor="end" fill="#00008c" stroke="#00008c" stroke-width="0.45">-</text>
<text x="127.8" y="609.7" font-size="17" text-anchor="middle" fill="#00008c" stroke="#00008c" stroke-width="0.45">30</text>
<text x="118.3" y="609.7" font-size="17" text-anchor="end" fill="#00008c" stroke="#00008c" stroke-width="0.45">-</text>
<text x="193.1" y="609.7" font-size="17" text-anchor="middle" fill="#00008c" stroke="#00008c" stroke-width="0.45">20</text>
<text x="183.6" y="609.7" font-size="17" text-anchor="end" fill="#00008c" stroke="#00008c" stroke-width="0.45">-</text>
<text x="258.4" y="609.7" font-size="17" text-anchor="middle" fill="#00008c" stroke="#00008c" stroke-width="0.45">10</text>
<text x="248.9" y="609.7" font-size="17" text-anchor="end" fill="#00008c" stroke="#00008c" stroke-width="0.45">-</text>
<text x="323.7" y="609.7" font-size="17" text-anchor="middle" fill="#00008c" stroke="#00008c" stroke-width="0.45">0</text>
<text x="388.9" y="609.7" font-size="17" text-anchor="middle" fill="#00008c" stroke="#00008c" stroke-width="0.45">10</text>
<text x="454.2" y="609.7" font-size="17" text-anchor="middle" fill="#00008c" stroke="#00008c" stroke-width="0.45">20</text>
<text x="519.5" y="609.7" font-size="17" text-anchor="middle" fill="#00008c" stroke="#00008c" stroke-width="0.45">30</text>
<text x="584.8" y="609.7" font-size="17" text-anchor="middle" fill="#00008c" stroke="#00008c" stroke-width="0.45">40</text>
<text x="3" y="632" font-size="17.5" font-weight="bold" fill="#000" textLength="138.5" lengthAdjust="spacingAndGlyphs">00Z 14 Apr 2016</text>
<text x="367" y="633" font-size="17.5" font-weight="bold" fill="#000" textLength="197.5" lengthAdjust="spacingAndGlyphs">University of Wyoming</text>
<text x="155.1" y="575" font-size="12" text-anchor="middle" fill="#960096">0.4</text>
<text x="223.1" y="575" font-size="12" text-anchor="middle" fill="#960096">1</text>
<text x="278.9" y="575" font-size="12" text-anchor="middle" fill="#960096">2</text>
<text x="338.9" y="575" font-size="12" text-anchor="middle" fill="#960096">4</text>
<text x="390.7" y="575" font-size="12" text-anchor="middle" fill="#960096">7</text>
<text x="425.3" y="575" font-size="12" text-anchor="middle" fill="#960096">10</text>
<text x="472.9" y="575" font-size="12" text-anchor="middle" fill="#960096">16</text>
<text x="515.7" y="575" font-size="12" text-anchor="middle" fill="#960096">24</text>
<text x="547.0" y="575" font-size="12" text-anchor="middle" fill="#960096">32</text>
<text x="548.0" y="575" font-size="12" text-anchor="start" fill="#960096">40g/kg</text>
<text x="710" y="61.0" font-size="12.5" fill="#000">SLAT</text><text x="753.2" y="61.0" font-size="12.5" fill="#000">50.22</text>
<text x="710" y="76.0" font-size="12.5" fill="#000">SLON</text><text x="753.2" y="76.0" font-size="12.5" fill="#000">-5.32</text>
<text x="710" y="91.1" font-size="12.5" fill="#000">SELV</text><text x="753.2" y="91.1" font-size="12.5" fill="#000">88.00</text>
<text x="710" y="106.1" font-size="12.5" fill="#000">SHOW</text><text x="753.2" y="106.1" font-size="12.5" fill="#000">2.76</text>
<text x="710" y="121.2" font-size="12.5" fill="#000">LIFT</text><text x="753.2" y="121.2" font-size="12.5" fill="#000">-0.37</text>
<text x="710" y="136.2" font-size="12.5" fill="#000">LFTV</text><text x="753.2" y="136.2" font-size="12.5" fill="#000">-0.45</text>
<text x="710" y="151.2" font-size="12.5" fill="#000">SWET</text><text x="753.2" y="151.2" font-size="12.5" fill="#000">139.0</text>
<text x="710" y="166.3" font-size="12.5" fill="#000">KINX</text><text x="753.2" y="166.3" font-size="12.5" fill="#000">18.50</text>
<text x="710" y="181.3" font-size="12.5" fill="#000">CTOT</text><text x="753.2" y="181.3" font-size="12.5" fill="#000">24.90</text>
<text x="710" y="196.4" font-size="12.5" fill="#000">VTOT</text><text x="753.2" y="196.4" font-size="12.5" fill="#000">28.90</text>
<text x="710" y="211.4" font-size="12.5" fill="#000">TOTL</text><text x="753.2" y="211.4" font-size="12.5" fill="#000">53.80</text>
<text x="710" y="226.4" font-size="12.5" fill="#000">CAPE</text><text x="753.2" y="226.4" font-size="12.5" fill="#000">82.67</text>
<text x="710" y="241.5" font-size="12.5" fill="#000">CAPV</text><text x="753.2" y="241.5" font-size="12.5" fill="#000">117.0</text>
<text x="710" y="256.5" font-size="12.5" fill="#000">CINS</text><text x="753.2" y="256.5" font-size="12.5" fill="#000">-2.19</text>
<text x="710" y="271.6" font-size="12.5" fill="#000">CINV</text><text x="753.2" y="271.6" font-size="12.5" fill="#000">-1.32</text>
<text x="710" y="286.6" font-size="12.5" fill="#000">EQLV</text><text x="753.2" y="286.6" font-size="12.5" fill="#000">469.6</text>
<text x="710" y="301.6" font-size="12.5" fill="#000">EQTV</text><text x="753.2" y="301.6" font-size="12.5" fill="#000">469.0</text>
<text x="710" y="316.7" font-size="12.5" fill="#000">LFCT</text><text x="753.2" y="316.7" font-size="12.5" fill="#000">911.8</text>
<text x="710" y="331.7" font-size="12.5" fill="#000">LFCV</text><text x="753.2" y="331.7" font-size="12.5" fill="#000">920.8</text>
<text x="710" y="346.8" font-size="12.5" fill="#000">BRCH</text><text x="753.2" y="346.8" font-size="12.5" fill="#000">115.9</text>
<text x="710" y="361.8" font-size="12.5" fill="#000">BRCV</text><text x="753.2" y="361.8" font-size="12.5" fill="#000">164.1</text>
<text x="710" y="376.8" font-size="12.5" fill="#000">LCLT</text><text x="753.2" y="376.8" font-size="12.5" fill="#000">279.6</text>
<text x="710" y="391.9" font-size="12.5" fill="#000">LCLP</text><text x="753.2" y="391.9" font-size="12.5" fill="#000">952.4</text>
<text x="710" y="406.9" font-size="12.5" fill="#000">MLTH</text><text x="753.2" y="406.9" font-size="12.5" fill="#000">283.5</text>
<text x="710" y="422.0" font-size="12.5" fill="#000">MLMR</text><text x="753.2" y="422.0" font-size="12.5" fill="#000">6.42</text>
<text x="710" y="437.0" font-size="12.5" fill="#000">THCK</text><text x="753.2" y="437.0" font-size="12.5" fill="#000">5374.</text>
<text x="710" y="452.0" font-size="12.5" fill="#000">PWAT</text><text x="753.2" y="452.0" font-size="12.5" fill="#000">13.24</text>
</svg>
</body></html>
